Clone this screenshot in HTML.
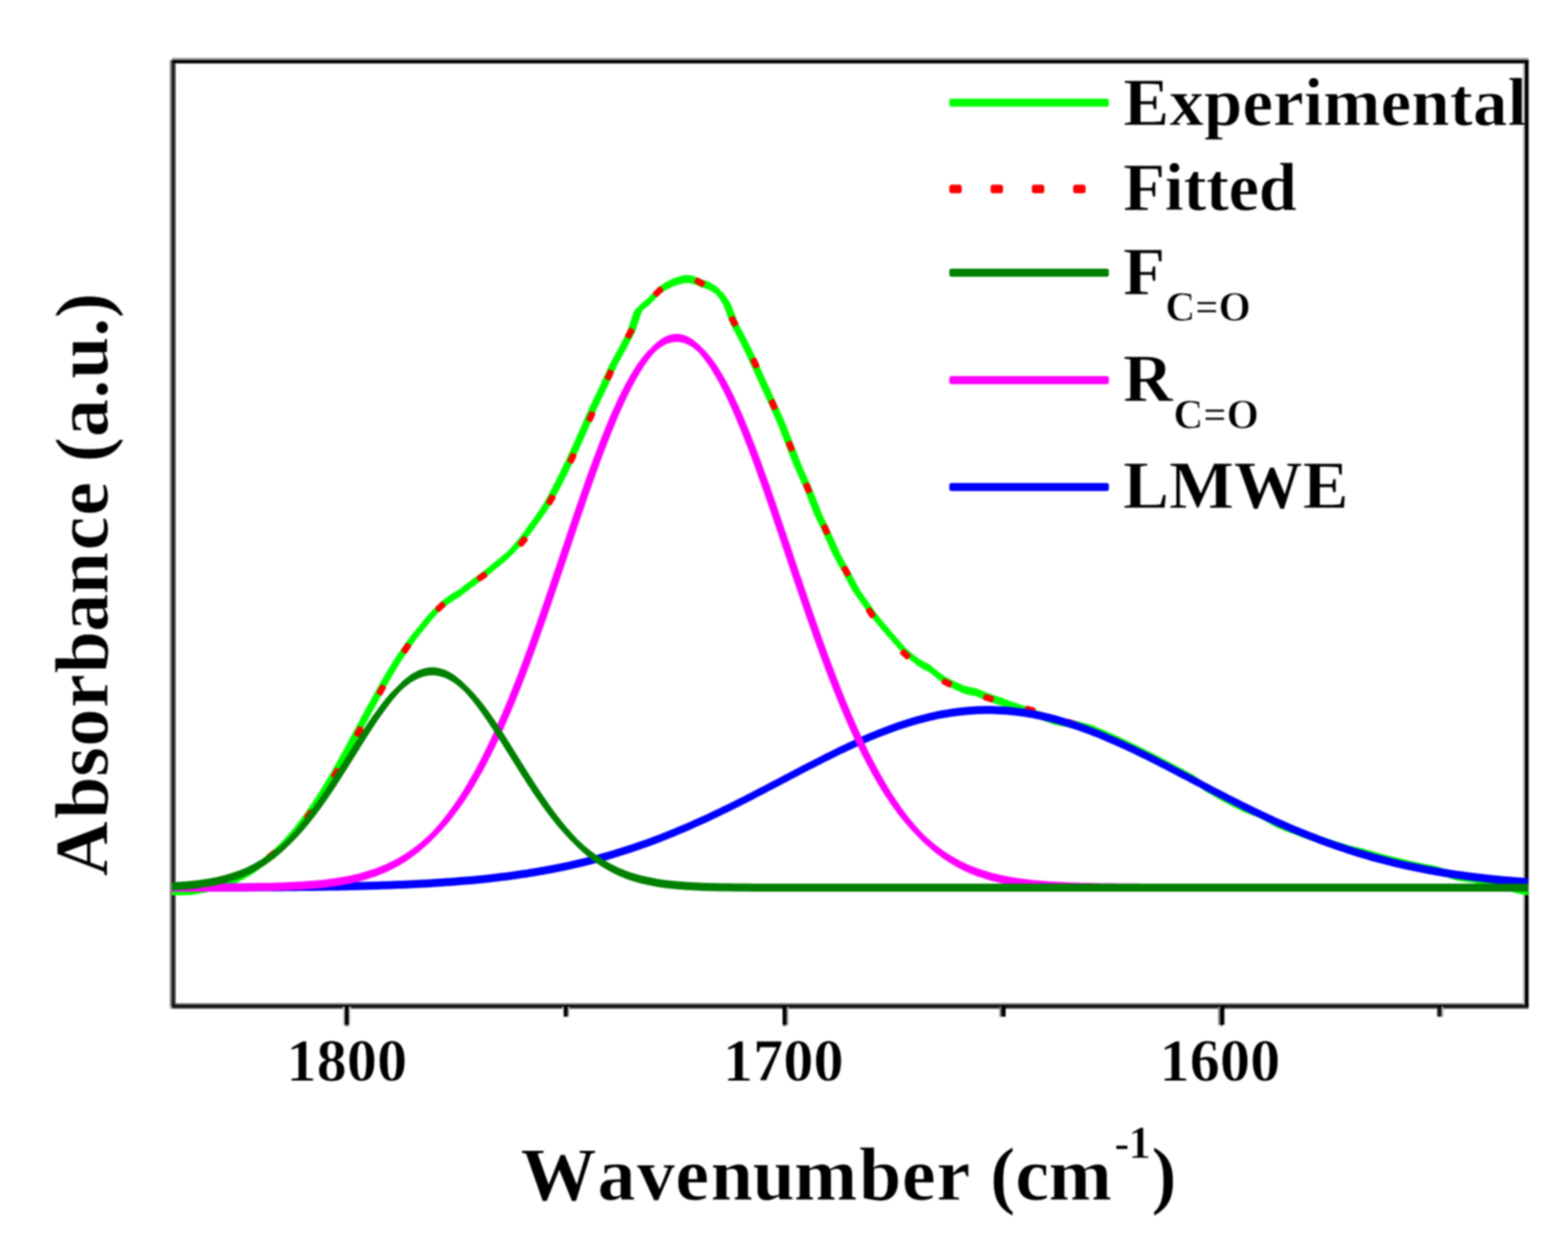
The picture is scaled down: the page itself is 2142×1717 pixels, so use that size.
<!DOCTYPE html>
<html lang="en"><head><meta charset="utf-8"><title>FTIR carbonyl band deconvolution</title>
<style>
html,body{margin:0;padding:0;background:#fff;}
body{width:2142px;height:1717px;overflow:hidden;}
svg{display:block;filter:blur(0.8px);}
text{font-family:"Liberation Serif","DejaVu Serif",serif;font-weight:bold;fill:#000;font-kerning:none;stroke:#fff;stroke-width:0.9px;stroke-linejoin:round;}
.crv{fill:none;stroke-width:11.0;stroke-linejoin:round;stroke-linecap:butt;}
</style></head><body>
<svg xmlns="http://www.w3.org/2000/svg" width="2142" height="1717" viewBox="0 0 2142 1717">
<rect x="0" y="0" width="2142" height="1717" fill="#fff"/>
<defs>
<clipPath id="plot"><rect x="235.0" y="86" width="1852.6" height="1287"/></clipPath>
<clipPath id="leg"><rect x="240" y="86" width="1843" height="1286"/></clipPath>
</defs>
<!-- axes frame -->
<g>
<rect x="235" y="79" width="1853.2" height="3" fill="#999"/>
<rect x="235" y="82" width="1853.2" height="4.6" fill="#000"/>
<rect x="235" y="1370" width="1848" height="2.3" fill="#8c8c8c"/>
<rect x="232" y="1372.3" width="1856.2" height="2.7" fill="#000"/>
<rect x="235" y="1375" width="1853.2" height="2.9" fill="#3a3a3a"/>
<rect x="232" y="1375" width="3" height="2.9" fill="#b4b4b4"/>
<rect x="232" y="82" width="3" height="1293" fill="#808080"/>
<rect x="235" y="82" width="2.6" height="1293" fill="#000"/>
<rect x="237.6" y="86.6" width="2.4" height="1285.7" fill="#3c3c3c"/>
<rect x="2080.2" y="86.6" width="2.8" height="1285.7" fill="#c4c4c4"/>
<rect x="2083" y="82" width="5.2" height="1293" fill="#000"/>
</g>
<!-- x axis ticks -->
<g>
<rect x="468.2" y="1375" width="2.7" height="24.9" fill="#d0d0d0"/>
<rect x="470.9" y="1375" width="5.9" height="24.9" fill="#000"/>
<rect x="476.8" y="1375" width="2.4" height="24.9" fill="#dedede"/>
<rect x="470.9" y="1399.9" width="5.9" height="2.1" fill="#909090"/>
<rect x="768.3" y="1375" width="1.8" height="13.7" fill="#e0e0e0"/>
<rect x="770.1" y="1375" width="5.7" height="13.7" fill="#000"/>
<rect x="775.8" y="1375" width="2.2" height="13.7" fill="#bdbdbd"/>
<rect x="1069" y="1375" width="5.8" height="24.9" fill="#000"/>
<rect x="1074.8" y="1375" width="2.4" height="24.9" fill="#a8a8a8"/>
<rect x="1069" y="1399.9" width="5.8" height="2.1" fill="#a0a0a0"/>
<rect x="1365.3" y="1375" width="2.7" height="13.7" fill="#808080"/>
<rect x="1368" y="1375" width="5.8" height="13.7" fill="#000"/>
<rect x="1664.1" y="1375" width="2.9" height="24.9" fill="#808080"/>
<rect x="1667" y="1375" width="5.6" height="24.9" fill="#000"/>
<rect x="1667" y="1399.9" width="3" height="2.1" fill="#8a8a8a"/>
<rect x="1963.2" y="1375" width="2.7" height="13.7" fill="#222"/>
<rect x="1965.9" y="1375" width="3" height="13.7" fill="#000"/>
<rect x="1968.9" y="1375" width="2.8" height="13.7" fill="#a8a8a8"/>
</g>
<!-- data curves -->
<g clip-path="url(#plot)">
<path fill="#00ff00" d="M229 1212.4L233 1212.2L235 1212L237 1212.1L241 1212.1L245 1212L249 1212L253 1211.9L257 1211.8L260 1211.7L261 1211.5L264.9 1210.9L268.9 1210.3L272.9 1209.6L276.8 1208.9L280.7 1208.2L284.6 1207.3L285 1207.3L288.6 1206.4L292.4 1205.4L296.3 1204.3L300.1 1203.2L304 1202L307.8 1200.7L311.6 1199.4L315.3 1198L319.1 1196.5L322.8 1195L325 1194L326.4 1193.3L330 1191.5L333.6 1189.6L337.1 1187.6L340.6 1185.6L344 1183.5L347.4 1181.3L350 1179.5L350.7 1179L353.9 1176.6L357.1 1174.1L360.2 1171.5L363.3 1168.9L366 1166.5L366.3 1166.3L369.4 1163.8L372.6 1161.2L375.6 1158.5L378.6 1155.8L381.5 1153.1L384.4 1150.3L387.3 1147.4L390.1 1144.5L392.9 1141.6L395 1139.3L395 1150.3L392.9 1152.6L390.1 1155.5L387.3 1158.4L384.4 1161.3L381.5 1164.1L378.6 1166.8L375.6 1169.5L372.6 1172.2L369.4 1174.8L366.3 1177.3L366 1177.5L363.3 1179.9L360.2 1182.5L357.1 1185.1L353.9 1187.6L350.7 1190L350 1190.5L347.4 1192.3L344 1194.5L340.6 1196.6L337.1 1198.6L333.6 1200.6L330 1202.5L326.4 1204.3L325 1205L322.8 1206L319.1 1207.5L315.3 1209L311.6 1210.4L307.8 1211.7L304 1213L300.1 1214.2L296.3 1215.3L292.4 1216.4L288.6 1217.4L285 1218.3L284.6 1218.3L280.7 1219.2L276.8 1219.9L272.9 1220.6L268.9 1221.3L264.9 1221.9L261 1222.5L260 1222.7L257 1222.8L253 1222.9L249 1223L245 1223L241 1223.1L237 1223.1L235 1223L233 1223.2L229 1223.4ZM373.1 1161.3L376 1158.6L378.9 1155.8L381.8 1152.9L384.6 1150L387.4 1147.1L389.5 1144.8L390.1 1144.1L392.8 1141.1L395.4 1138.1L398 1135L400.6 1131.9L403.1 1128.8L405.6 1125.6L408.1 1122.4L410.5 1119.2L412.9 1116L415.2 1112.7L417.6 1109.4L419.9 1106.1L422.1 1102.8L424.4 1099.5L424.5 1099.3L426.6 1096.2L428.9 1092.8L431.1 1089.5L433.2 1086.1L435.4 1082.7L437.6 1079.3L439.7 1075.9L441.8 1072.5L443.9 1069L445.9 1065.6L448 1062.1L450 1058.7L452 1055.2L454 1051.7L456 1048.2L458 1044.8L460 1041.3L461.9 1037.8L463.9 1034.3L465.8 1030.7L467.8 1027.2L469.7 1023.7L471.6 1020.2L473.5 1016.7L475.4 1013.2L477.3 1009.6L479.2 1006.1L481.1 1002.6L483 999L484.5 996.2L484.9 995.5L486.8 992L488.7 988.5L490.6 985L492.5 981.4L494.4 977.9L496.3 974.4L498.2 970.9L500.1 967.4L502.1 963.9L504 960.4L505.9 956.9L507.8 953.4L509.8 949.9L511.7 946.4L513.6 942.9L515.6 939.5L517.6 936L519.5 932.5L521.5 929.1L523.5 925.6L525.5 922.2L527.6 918.7L529.6 915.3L531.7 911.9L533.7 908.5L534.5 907.2L535.8 905.1L538 901.8L540.1 898.5L542.3 895.1L544.5 891.8L546.8 888.5L549 885.3L551.3 882L553.6 878.8L556 875.6L558.3 872.4L560.8 869.2L563.2 866.1L565.7 863L568.2 859.9L570.7 856.9L572.5 854.9L573.3 853.8L575.8 850.7L578.3 847.6L580.9 844.5L583.5 841.5L586.1 838.6L588.8 835.6L591.5 832.7L594.2 829.9L596.5 827.6L597 827.2L600.1 824.7L603.3 822.4L614.3 822.4L611.1 824.7L608 827.2L607.5 827.6L605.2 829.9L602.5 832.7L599.8 835.6L597.1 838.6L594.5 841.5L591.9 844.5L589.3 847.6L586.8 850.7L584.3 853.8L583.5 854.9L581.7 856.9L579.2 859.9L576.7 863L574.2 866.1L571.8 869.2L569.3 872.4L567 875.6L564.6 878.8L562.3 882L560 885.3L557.8 888.5L555.5 891.8L553.3 895.1L551.1 898.5L549 901.8L546.8 905.1L545.5 907.2L544.7 908.5L542.7 911.9L540.6 915.3L538.6 918.7L536.5 922.2L534.5 925.6L532.5 929.1L530.5 932.5L528.6 936L526.6 939.5L524.6 942.9L522.7 946.4L520.8 949.9L518.8 953.4L516.9 956.9L515 960.4L513 963.9L511.1 967.4L509.2 970.9L507.3 974.4L505.4 977.9L503.5 981.4L501.6 985L499.7 988.5L497.8 992L495.9 995.5L495.5 996.2L494 999L492.1 1002.6L490.2 1006.1L488.3 1009.6L486.4 1013.2L484.5 1016.7L482.6 1020.2L480.7 1023.7L478.8 1027.2L476.8 1030.7L474.9 1034.3L472.9 1037.8L471 1041.3L469 1044.8L467 1048.2L465 1051.7L463 1055.2L461 1058.7L459 1062.1L456.9 1065.6L454.9 1069L452.8 1072.5L450.7 1075.9L448.6 1079.3L446.4 1082.7L444.2 1086.1L442.1 1089.5L439.9 1092.8L437.6 1096.2L435.5 1099.3L435.4 1099.5L433.1 1102.8L430.9 1106.1L428.6 1109.4L426.2 1112.7L423.9 1116L421.5 1119.2L419.1 1122.4L416.6 1125.6L414.1 1128.8L411.6 1131.9L409 1135L406.4 1138.1L403.8 1141.1L401.1 1144.1L400.5 1144.8L398.4 1147.1L395.6 1150L392.8 1152.9L389.9 1155.8L387 1158.6L384.1 1161.3ZM594.2 830.1L597 827.2L599.7 824.4L602 822.1L602.5 821.7L605.6 819.2L608.8 816.9L612.1 814.5L615.3 812.3L618.7 810.1L622 808L625.4 805.9L628 804.4L628.9 803.7L632 801.3L635.1 798.8L638.3 796.4L641.5 794L644.7 791.6L647.9 789.2L651.1 786.9L654.4 784.5L657 782.5L657.6 782.1L660.8 779.7L663.9 777.2L667.1 774.7L670.2 772.2L673.4 769.7L676.4 767.1L679 764.9L679.5 764.5L682.6 762L685.8 759.5L688.8 756.9L691.8 754.2L694.8 751.5L697.7 748.7L698 748.4L700.6 745.7L703.4 742.7L706 739.7L706 750.7L703.4 753.7L700.6 756.7L698 759.4L697.7 759.7L694.8 762.5L691.8 765.2L688.8 767.9L685.8 770.5L682.6 773L679.5 775.5L679 775.9L676.4 778.1L673.4 780.7L670.2 783.2L667.1 785.7L663.9 788.2L660.8 790.7L657.6 793.1L657 793.5L654.4 795.5L651.1 797.9L647.9 800.2L644.7 802.6L641.5 805L638.3 807.4L635.1 809.8L632 812.3L628.9 814.7L628 815.4L625.4 816.9L622 819L618.7 821.1L615.3 823.3L612.1 825.5L608.8 827.9L605.6 830.2L602.5 832.7L602 833.1L599.7 835.4L597 838.2L594.2 841.1ZM686.3 759.7L689.3 757L692.2 754.2L692.5 753.9L695.1 751.2L697.9 748.2L700.5 745.2L703.2 742.2L705.8 739.1L708.4 736L710.9 732.8L713.3 729.6L715.7 726.4L718.1 723.1L720.4 719.8L722.7 716.5L723.5 715.4L725 713.4L727.4 710.2L729.8 706.9L732.1 703.6L734.4 700.3L736.6 697L738.9 693.6L741 690.2L741.5 689.5L743.2 686.6L745.2 683.1L747.1 679.6L749.1 676L751 672.5L752.9 668.9L754.8 665.4L756.6 661.8L758.5 658.3L760.3 654.7L762.1 651.1L763.9 647.5L765.6 643.9L766.5 642.1L767.4 640.3L769.1 636.6L770.9 633L772.6 629.4L774.3 625.8L776 622.1L777.7 618.5L779.4 614.8L781 611.2L782.7 607.5L784.3 603.9L786 600.2L787.6 596.6L789.2 592.9L790.9 589.3L792.5 585.6L794.1 581.9L795.7 578.3L797.3 574.6L798.9 570.9L800.5 567.3L802.1 563.6L803.7 559.9L804.5 558.2L805.3 556.4L807.1 552.8L808.8 549.2L810.5 545.6L812.2 542L814 538.4L815.7 534.8L817.4 531.2L819.2 527.6L819.5 526.9L820.9 523.7L822.5 520.1L824.2 516.5L825.8 512.8L827.5 509.2L829.1 505.5L830.8 501.9L831.5 500.3L832.4 498.6L834.3 495L836.2 491.5L838.1 488.1L840.1 484.6L842 481.1L844 477.6L844.5 476.7L846 473.8L847.8 470.3L849.6 466.7L851.4 463.2L853.3 459.7L855.1 456.2L856.5 453.7L857 452L858.3 448.2L859.6 444.4L860.8 440.6L862.1 436.9L862.5 435.7L863.4 433.1L864.7 429.3L866 425.6L866.5 424.1L867.3 423.3L870.1 420.6L873.1 417.9L876.1 415.4L887.1 415.4L884.1 417.9L881.1 420.6L878.3 423.3L877.5 424.1L877 425.6L875.7 429.3L874.4 433.1L873.5 435.7L873.1 436.9L871.8 440.6L870.6 444.4L869.3 448.2L868 452L867.5 453.7L866.1 456.2L864.3 459.7L862.4 463.2L860.6 466.7L858.8 470.3L857 473.8L855.5 476.7L855 477.6L853 481.1L851.1 484.6L849.1 488.1L847.2 491.5L845.3 495L843.4 498.6L842.5 500.3L841.8 501.9L840.1 505.5L838.5 509.2L836.8 512.8L835.2 516.5L833.5 520.1L831.9 523.7L830.5 526.9L830.2 527.6L828.4 531.2L826.7 534.8L825 538.4L823.2 542L821.5 545.6L819.8 549.2L818.1 552.8L816.3 556.4L815.5 558.2L814.7 559.9L813.1 563.6L811.5 567.3L809.9 570.9L808.3 574.6L806.7 578.3L805.1 581.9L803.5 585.6L801.9 589.3L800.2 592.9L798.6 596.6L797 600.2L795.3 603.9L793.7 607.5L792 611.2L790.4 614.8L788.7 618.5L787 622.1L785.3 625.8L783.6 629.4L781.9 633L780.1 636.6L778.4 640.3L777.5 642.1L776.6 643.9L774.9 647.5L773.1 651.1L771.3 654.7L769.5 658.3L767.6 661.8L765.8 665.4L763.9 668.9L762 672.5L760.1 676L758.1 679.6L756.2 683.1L754.2 686.6L752.5 689.5L752 690.2L749.9 693.6L747.6 697L745.4 700.3L743.1 703.6L740.8 706.9L738.4 710.2L736 713.4L734.5 715.4L733.7 716.5L731.4 719.8L729.1 723.1L726.7 726.4L724.3 729.6L721.9 732.8L719.4 736L716.8 739.1L714.2 742.2L711.5 745.2L708.9 748.2L706.1 751.2L703.5 753.9L703.2 754.2L700.3 757L697.3 759.7ZM870.2 423.8L871.5 420.1L872 418.6L872.8 417.8L875.6 415.1L878.6 412.4L881.6 409.9L884.7 407.5L887.9 405.2L888 405.1L891 401.5L893.6 398.5L896.2 395.6L896.2 406.6L893.6 409.5L891 412.5L888 416.1L887.9 416.2L884.7 418.5L881.6 420.9L878.6 423.4L875.6 426.1L872.8 428.8L872 429.6L871.5 431.1L870.2 434.8ZM876.1 415.4L879.2 413L882.4 410.7L882.5 410.6L885.5 407L888.1 404L890.7 401.1L892.5 399.3L893.5 398.5L896.5 396L899.7 393.7L910.7 393.7L907.5 396L904.5 398.5L903.5 399.3L901.7 401.1L899.1 404L896.5 407L893.5 410.6L893.4 410.7L890.2 413L887.1 415.4ZM891 401.5L893.6 398.5L896.2 395.6L898 393.8L899 393L902 390.5L905.2 388.2L908.5 386.1L912 384.2L913 383.7L915.6 382.3L919.1 380.6L922.8 379.2L926 378.3L926.6 378.1L930.3 376.9L934.2 376L936 375.8L938.1 375.7L942.1 376L945 376.4L946.1 376.7L950 377.9L953.8 379.4L957.4 381.3L958 381.7L960.9 382.3L964.7 383.5L968.5 385L970 385.8L972.1 387L975.6 389.2L978.9 391.6L982 394.1L983 394.9L985.1 397.9L987.4 401.2L989.6 404.6L989.6 415.6L987.4 412.2L985.1 408.9L983 405.9L982 405.1L978.9 402.6L975.6 400.2L972.1 398L970 396.8L968.5 396L964.7 394.5L960.9 393.3L958 392.7L957.4 392.3L953.8 390.4L950 388.9L946.1 387.7L945 387.4L942.1 387L938.1 386.7L936 386.8L934.2 387L930.3 387.9L926.6 389.1L926 389.3L922.8 390.2L919.1 391.6L915.6 393.3L913 394.7L912 395.2L908.5 397.1L905.2 399.2L902 401.5L899 404L898 404.8L896.2 406.6L893.6 409.5L891 412.5ZM981.1 394.7L984.4 397.1L987.5 399.6L988.5 400.4L990.6 403.4L992.9 406.7L995.1 410.1L997.3 413.5L998.5 415.4L999.4 417.8L1000.9 421.5L1002.4 425.3L1003.5 428.2L1003.8 429.1L1005.2 432.8L1006.5 436.6L1007.9 440.4L1008.5 442.1L1009.2 443.4L1011.2 446.9L1013.1 450.5L1015 454L1016.9 457.6L1018.8 461.2L1019.5 462.6L1020.6 464.7L1022.4 468.3L1024.2 471.9L1026 475.5L1027.7 479.1L1029.5 482.8L1031.2 486.4L1032.9 490L1034.6 493.7L1036.2 497.3L1037.9 501L1039.6 504.6L1041.2 508.3L1042.8 512L1044.4 515.6L1045.5 518.1L1046 519.2L1047.8 522.8L1049.5 526.5L1051.2 530.1L1052.8 533.7L1054.5 537.4L1056.2 541L1057.9 544.7L1059.5 548.3L1061.2 552L1061.5 552.7L1062.8 555.6L1064.5 559.3L1066.1 562.9L1067.7 566.6L1069.3 570.3L1071 573.9L1072.6 577.6L1073.5 579.6L1074.2 581.5L1075.7 585.2L1077.1 588.9L1078.5 592.7L1080 596.4L1081.4 600.1L1082.8 603.9L1084.3 607.6L1085.5 610.8L1085.7 611.3L1087.2 615.1L1088.6 618.8L1090.1 622.5L1091.5 626.2L1093 630L1094.5 633.7L1095.5 636.3L1095.9 637.3L1097.5 640.9L1099.1 644.6L1100.8 648.3L1102.4 651.9L1104 655.5L1105.6 659.2L1107.3 662.8L1108.9 666.5L1109.5 667.8L1110.5 670.5L1112 674.2L1113.5 677.9L1114.9 681.6L1116.4 685.4L1116.5 685.7L1117.8 689.1L1119.3 692.8L1120.8 696.5L1122.2 700.2L1123.5 703.4L1123.7 703.9L1125.4 707.4L1127.1 711.1L1128.9 714.6L1130.6 718.2L1132.3 721.8L1133.5 724.2L1134.1 725.5L1135.7 729.2L1137.4 732.8L1139 736.4L1140.7 740L1141.5 741.8L1142.3 743.8L1144 747.5L1145.5 751.1L1147.2 754.7L1147.5 755.5L1148.8 757.9L1150.7 761.5L1152.5 765L1154.5 768.5L1156.4 771.9L1158.3 775.4L1160.3 778.9L1162.3 782.3L1162.5 782.7L1164.3 786.1L1166.1 789.7L1168 793.2L1169.8 796.7L1171.7 800.2L1173.7 803.7L1174.5 805.2L1175.6 806.9L1177.8 810.2L1180 813.4L1182.3 816.7L1184.6 819.9L1185.5 821.2L1187 823.3L1189.2 826.6L1191.5 829.8L1193.8 833.1L1196.1 836.3L1196.5 836.8L1198.5 839.4L1200.9 842.5L1203.4 845.6L1206 848.7L1208.5 851.7L1211.1 854.7L1211.5 855.2L1213.8 858L1216.3 861L1218.8 864.1L1221.5 867L1224.1 870L1226.5 872.6L1226.8 873L1229.3 876L1231.9 879L1234.6 882L1237.2 884.9L1239.9 887.8L1242.5 890.5L1242.7 890.7L1245.7 893.3L1248.7 895.8L1237.7 895.8L1234.7 893.3L1231.7 890.7L1231.5 890.5L1228.9 887.8L1226.2 884.9L1223.6 882L1220.9 879L1218.3 876L1215.8 873L1215.5 872.6L1213.1 870L1210.5 867L1207.8 864.1L1205.3 861L1202.8 858L1200.5 855.2L1200.1 854.7L1197.5 851.7L1195 848.7L1192.4 845.6L1189.9 842.5L1187.5 839.4L1185.5 836.8L1185.1 836.3L1182.8 833.1L1180.5 829.8L1178.2 826.6L1176 823.3L1174.5 821.2L1173.6 819.9L1171.3 816.7L1169 813.4L1166.8 810.2L1164.6 806.9L1163.5 805.2L1162.7 803.7L1160.7 800.2L1158.8 796.7L1157 793.2L1155.1 789.7L1153.3 786.1L1151.5 782.7L1151.3 782.3L1149.3 778.9L1147.3 775.4L1145.4 771.9L1143.5 768.5L1141.5 765L1139.7 761.5L1137.8 757.9L1136.5 755.5L1136.2 754.7L1134.5 751.1L1133 747.5L1131.3 743.8L1130.5 741.8L1129.7 740L1128 736.4L1126.4 732.8L1124.7 729.2L1123.1 725.5L1122.5 724.2L1121.3 721.8L1119.6 718.2L1117.9 714.6L1116.1 711.1L1114.4 707.4L1112.7 703.9L1112.5 703.4L1111.2 700.2L1109.8 696.5L1108.3 692.8L1106.8 689.1L1105.5 685.7L1105.4 685.4L1103.9 681.6L1102.5 677.9L1101 674.2L1099.5 670.5L1098.5 667.8L1097.9 666.5L1096.3 662.8L1094.6 659.2L1093 655.5L1091.4 651.9L1089.8 648.3L1088.1 644.6L1086.5 640.9L1084.9 637.3L1084.5 636.3L1083.5 633.7L1082 630L1080.5 626.2L1079.1 622.5L1077.6 618.8L1076.2 615.1L1074.7 611.3L1074.5 610.8L1073.3 607.6L1071.8 603.9L1070.4 600.1L1069 596.4L1067.5 592.7L1066.1 588.9L1064.7 585.2L1063.2 581.5L1062.5 579.6L1061.6 577.6L1060 573.9L1058.3 570.3L1056.7 566.6L1055.1 562.9L1053.5 559.3L1051.8 555.6L1050.5 552.7L1050.2 552L1048.5 548.3L1046.9 544.7L1045.2 541L1043.5 537.4L1041.8 533.7L1040.2 530.1L1038.5 526.5L1036.8 522.8L1035 519.2L1034.5 518.1L1033.4 515.6L1031.8 512L1030.2 508.3L1028.6 504.6L1026.9 501L1025.2 497.3L1023.6 493.7L1021.9 490L1020.2 486.4L1018.5 482.8L1016.7 479.1L1015 475.5L1013.2 471.9L1011.4 468.3L1009.6 464.7L1008.5 462.6L1007.8 461.2L1005.9 457.6L1004 454L1002.1 450.5L1000.2 446.9L998.2 443.4L997.5 442.1L996.9 440.4L995.5 436.6L994.2 432.8L992.8 429.1L992.5 428.2L991.4 425.3L989.9 421.5L988.4 417.8L987.5 415.4L986.3 413.5L984.1 410.1L981.9 406.7L979.6 403.4L977.5 400.4L976.5 399.6L973.4 397.1L970.1 394.7ZM1229.1 876.5L1231.7 879.4L1234.4 882.3L1237 885L1237.2 885.2L1240.2 887.8L1243.2 890.3L1246.3 892.8L1249.4 895.3L1252.6 897.7L1254 898.7L1255.8 899.9L1259.2 901.9L1262.6 903.9L1266.1 905.8L1269.6 907.6L1271 908.3L1273.2 910.2L1276.2 912.8L1279.3 915.3L1282.4 917.8L1285.6 920.2L1288.8 922.6L1290 923.6L1292 924.6L1295.5 926.5L1299 928.3L1302.6 930L1306.2 931.7L1309.9 933.3L1313.5 934.9L1317 936.4L1317.2 936.5L1321 937.4L1324.9 938.4L1328.8 939.2L1332.7 940.1L1334 940.3L1336.7 941.4L1340.3 943L1344 944.4L1347.8 945.9L1351.5 947.4L1352 947.6L1355.2 948.7L1359 949.9L1362.8 951.2L1366.6 952.4L1370.4 953.7L1371 953.9L1374.2 955.2L1377.9 956.8L1381.6 958.3L1382 958.5L1385.3 959.6L1389.1 960.8L1392.9 962.1L1396.7 963.4L1400.5 964.6L1404.2 965.9L1408 967.2L1410 967.9L1411.8 968.5L1415.6 969.9L1419.4 971.2L1423.1 972.6L1426.9 974L1430.6 975.4L1434.4 976.8L1438.1 978.3L1440 979L1441.8 979.3L1445.8 980L1449.7 980.7L1453.6 981.4L1457.6 982.2L1461.5 982.9L1465 983.6L1465.4 983.7L1469.3 984.6L1473.2 985.5L1477.1 986.5L1481 987.4L1484.9 988.4L1488.8 989.4L1490 989.7L1492.6 990.8L1496.3 992.3L1500 993.9L1503.7 995.4L1507.4 997L1511.1 998.6L1514.7 1000.2L1518.4 1001.8L1522 1003.5L1525.7 1005.1L1529.3 1006.8L1533 1008.5L1536.6 1010.2L1540.2 1011.9L1543.8 1013.6L1547.4 1015.4L1551 1017.1L1554.6 1018.9L1558.2 1020.6L1561.8 1022.4L1565.4 1024.2L1569 1026L1570 1026.5L1572.5 1027.8L1576.1 1029.6L1579.7 1031.5L1583.2 1033.3L1586.8 1035.2L1590.3 1037L1593.8 1038.9L1597.4 1040.8L1600.9 1042.6L1604.4 1044.5L1608 1046.4L1611.5 1048.3L1615 1050.1L1618.6 1052L1622.1 1053.9L1625.6 1055.8L1629.2 1057.7L1630 1058.1L1632.7 1060.1L1635.9 1062.4L1639.2 1064.8L1642.4 1067.1L1645 1069L1645.6 1069.4L1649.1 1071.4L1652.5 1073.4L1656 1075.4L1659.5 1077.4L1662.9 1079.5L1666.4 1081.4L1669.8 1083.4L1670 1083.5L1673.3 1085.3L1676.9 1087.1L1680.4 1088.9L1684 1090.7L1687.6 1092.5L1691.1 1094.3L1694.7 1096.1L1698.3 1097.9L1700 1098.7L1701.9 1099.4L1705.6 1100.8L1709.4 1102.2L1713.1 1103.5L1716.9 1104.9L1720 1106L1720.7 1106.4L1724.1 1108.4L1727.6 1110.3L1731.1 1112.3L1734.6 1114.3L1738 1116.2L1741.5 1118.2L1745 1120.1L1745 1120.1L1748.7 1121.5L1752.4 1123L1756.1 1124.4L1759.9 1125.8L1763.6 1127.2L1767.4 1128.6L1770 1129.5L1771.1 1129.9L1774.9 1131.4L1778.6 1132.8L1782.3 1134.2L1786.1 1135.6L1789.9 1137L1793.6 1138.3L1797.4 1139.6L1800 1140.6L1801.2 1141L1804.9 1142.3L1808.7 1143.6L1812.5 1144.9L1816.3 1146.2L1820.1 1147.4L1823.9 1148.7L1827.7 1149.9L1831.5 1151.1L1835.3 1152.3L1839.1 1153.5L1840 1153.7L1842.9 1154.5L1846.8 1155.5L1850.7 1156.4L1854.6 1157.3L1858.5 1158.2L1861 1158.8L1862.4 1159.2L1866.2 1160.3L1870.1 1161.5L1873.9 1162.5L1877.8 1163.6L1881.6 1164.7L1885.5 1165.7L1889.3 1166.7L1893.2 1167.7L1897.1 1168.7L1901 1169.7L1904.8 1170.6L1908.7 1171.5L1912 1172.3L1912.6 1172.4L1916.5 1173.4L1920.4 1174.3L1924.3 1175.3L1928.2 1176.2L1932.1 1177L1936 1177.9L1939.9 1178.8L1940 1178.8L1943.8 1179.5L1947.7 1180.3L1951.7 1181L1955.6 1181.7L1959.5 1182.4L1960 1182.5L1963.5 1183.6L1967.3 1184.7L1971.1 1185.9L1975 1187L1975 1187L1978.8 1188.2L1982.6 1189.5L1986.4 1190.7L1990 1191.8L1990.2 1191.8L1994.2 1192.4L1998.2 1192.9L2002.1 1193.5L2006.1 1194L2010 1194.5L2014 1195L2014 1195L2018 1195.9L2021.9 1196.7L2025.8 1197.5L2029.7 1198.3L2033.6 1199.1L2037.5 1199.9L2040 1200.4L2041.5 1200.8L2045.3 1201.9L2049.2 1202.9L2053 1204L2056.9 1205L2060 1205.8L2060.8 1206L2064.6 1207.1L2068.5 1208.2L2072.3 1209.2L2076.2 1210.3L2078 1210.8L2080 1211L2084 1211.5L2088 1212L2088 1212L2091.9 1212.3L2093.6 1212.4L2093.6 1223.4L2091.9 1223.3L2088 1223L2088 1223L2084 1222.5L2080 1222L2078 1221.8L2076.2 1221.3L2072.3 1220.2L2068.5 1219.2L2064.6 1218.1L2060.8 1217L2060 1216.8L2056.9 1216L2053 1215L2049.2 1213.9L2045.3 1212.9L2041.5 1211.8L2040 1211.4L2037.5 1210.9L2033.6 1210.1L2029.7 1209.3L2025.8 1208.5L2021.9 1207.7L2018 1206.9L2014 1206L2014 1206L2010 1205.5L2006.1 1205L2002.1 1204.5L1998.2 1203.9L1994.2 1203.4L1990.2 1202.8L1990 1202.8L1986.4 1201.7L1982.6 1200.5L1978.8 1199.2L1975 1198L1975 1198L1971.1 1196.9L1967.3 1195.7L1963.5 1194.6L1960 1193.5L1959.5 1193.4L1955.6 1192.7L1951.7 1192L1947.7 1191.3L1943.8 1190.5L1940 1189.8L1939.9 1189.8L1936 1188.9L1932.1 1188L1928.2 1187.2L1924.3 1186.3L1920.4 1185.3L1916.5 1184.4L1912.6 1183.4L1912 1183.3L1908.7 1182.5L1904.8 1181.6L1901 1180.7L1897.1 1179.7L1893.2 1178.7L1889.3 1177.7L1885.5 1176.7L1881.6 1175.7L1877.8 1174.6L1873.9 1173.5L1870.1 1172.5L1866.2 1171.3L1862.4 1170.2L1861 1169.8L1858.5 1169.2L1854.6 1168.3L1850.7 1167.4L1846.8 1166.5L1842.9 1165.5L1840 1164.7L1839.1 1164.5L1835.3 1163.3L1831.5 1162.1L1827.7 1160.9L1823.9 1159.7L1820.1 1158.4L1816.3 1157.2L1812.5 1155.9L1808.7 1154.6L1804.9 1153.3L1801.2 1152L1800 1151.6L1797.4 1150.6L1793.6 1149.3L1789.9 1148L1786.1 1146.6L1782.3 1145.2L1778.6 1143.8L1774.9 1142.4L1771.1 1140.9L1770 1140.5L1767.4 1139.6L1763.6 1138.2L1759.9 1136.8L1756.1 1135.4L1752.4 1134L1748.7 1132.5L1745 1131.1L1745 1131.1L1741.5 1129.2L1738 1127.2L1734.6 1125.3L1731.1 1123.3L1727.6 1121.3L1724.1 1119.4L1720.7 1117.4L1720 1117L1716.9 1115.9L1713.1 1114.5L1709.4 1113.2L1705.6 1111.8L1701.9 1110.4L1700 1109.7L1698.3 1108.9L1694.7 1107.1L1691.1 1105.3L1687.6 1103.5L1684 1101.7L1680.4 1099.9L1676.9 1098.1L1673.3 1096.3L1670 1094.5L1669.8 1094.4L1666.4 1092.4L1662.9 1090.5L1659.5 1088.4L1656 1086.4L1652.5 1084.4L1649.1 1082.4L1645.6 1080.4L1645 1080L1642.4 1078.1L1639.2 1075.8L1635.9 1073.4L1632.7 1071.1L1630 1069.1L1629.2 1068.7L1625.6 1066.8L1622.1 1064.9L1618.6 1063L1615 1061.1L1611.5 1059.3L1608 1057.4L1604.4 1055.5L1600.9 1053.6L1597.4 1051.8L1593.8 1049.9L1590.3 1048L1586.8 1046.2L1583.2 1044.3L1579.7 1042.5L1576.1 1040.6L1572.5 1038.8L1570 1037.5L1569 1037L1565.4 1035.2L1561.8 1033.4L1558.2 1031.6L1554.6 1029.9L1551 1028.1L1547.4 1026.4L1543.8 1024.6L1540.2 1022.9L1536.6 1021.2L1533 1019.5L1529.3 1017.8L1525.7 1016.1L1522 1014.5L1518.4 1012.8L1514.7 1011.2L1511.1 1009.6L1507.4 1008L1503.7 1006.4L1500 1004.9L1496.3 1003.3L1492.6 1001.8L1490 1000.7L1488.8 1000.4L1484.9 999.4L1481 998.4L1477.1 997.5L1473.2 996.5L1469.3 995.6L1465.4 994.7L1465 994.6L1461.5 993.9L1457.6 993.2L1453.6 992.4L1449.7 991.7L1445.8 991L1441.8 990.3L1440 990L1438.1 989.3L1434.4 987.8L1430.6 986.4L1426.9 985L1423.1 983.6L1419.4 982.2L1415.6 980.9L1411.8 979.5L1410 978.9L1408 978.2L1404.2 976.9L1400.5 975.6L1396.7 974.4L1392.9 973.1L1389.1 971.8L1385.3 970.6L1382 969.5L1381.6 969.3L1377.9 967.8L1374.2 966.2L1371 964.9L1370.4 964.7L1366.6 963.4L1362.8 962.2L1359 960.9L1355.2 959.7L1352 958.6L1351.5 958.4L1347.8 956.9L1344 955.4L1340.3 954L1336.7 952.4L1334 951.3L1332.7 951.1L1328.8 950.2L1324.9 949.4L1321 948.4L1317.2 947.5L1317 947.4L1313.5 945.9L1309.9 944.3L1306.2 942.7L1302.6 941L1299 939.3L1295.5 937.5L1292 935.6L1290 934.6L1288.8 933.6L1285.6 931.2L1282.4 928.8L1279.3 926.3L1276.2 923.8L1273.2 921.2L1271 919.3L1269.6 918.6L1266.1 916.8L1262.6 914.9L1259.2 912.9L1255.8 910.9L1254 909.7L1252.6 908.7L1249.4 906.3L1246.3 903.8L1243.2 901.3L1240.2 898.8L1237.2 896.2L1237 896L1234.4 893.3L1231.7 890.4L1229.1 887.5Z"/>
<path fill="#ff0000" stroke="#ff0000" stroke-width="5.6" stroke-linejoin="round" d="M253.1 1207.7L261.9 1206.9L262.2 1210.1L253.4 1210.9ZM309.8 1198L318.2 1195.3L319.2 1198.3L310.8 1201ZM366.9 1169.4L373.8 1164L375.8 1166.5L368.9 1171.9ZM418.4 1115.7L423.6 1108.6L426.2 1110.5L421 1117.6ZM455.2 1059.3L459.6 1051.7L462.4 1053.3L458 1060.9ZM486.7 1002.5L490.8 994.8L493.6 996.3L489.5 1004ZM517.3 945.6L521.6 937.9L524.4 939.5L520.1 947.2ZM551.1 888.4L556 881.1L558.7 882.9L553.8 890.2ZM597.3 830.8L603.7 824.8L605.9 827.2L599.4 833.2ZM653.9 788.7L661.2 783.8L663 786.5L655.6 791.3ZM710.1 742L715.7 735.3L718.2 737.4L712.5 744.1ZM749 685.9L753.3 678.2L756.1 679.8L751.8 687.4ZM778.1 629.2L781.9 621.3L784.8 622.6L781 630.6ZM803.9 572.4L807.5 564.4L810.4 565.7L806.8 573.7ZM829.2 515.5L832.8 507.5L835.7 508.9L832.1 516.9ZM856.8 458.4L861 450.7L863.8 452.2L859.6 460ZM894.9 400.5L901.1 394.2L903.4 396.5L897.2 402.7ZM953 381.9L960.6 386.3L959 389L951.4 384.7ZM1001.2 434.4L1005.7 441.9L1002.9 443.6L998.4 436ZM1030.9 491.2L1034.6 499.2L1031.7 500.5L1028 492.5ZM1056 548L1059.4 556.1L1056.4 557.4L1053 549.3ZM1079.5 604.9L1082.8 613L1079.9 614.3L1076.5 606.1ZM1103 661.8L1106.4 669.9L1103.4 671.1L1100 663ZM1127.7 718.7L1131.3 726.7L1128.4 728L1124.8 720ZM1155.2 775.6L1159.3 783.3L1156.5 784.8L1152.4 777ZM1188.3 832.5L1193.3 839.8L1190.6 841.6L1185.7 834.3ZM1234.6 889.6L1241 895.6L1238.8 897.9L1232.4 891.9ZM1290.3 929.5L1298.2 933.3L1296.8 936.2L1288.9 932.3ZM1346.7 951L1355.1 953.5L1354.2 956.6L1345.8 954.1ZM1403.5 966.9L1412 969.3L1411.1 972.4L1402.6 969.9ZM1460.6 984.8L1468.9 987.8L1467.8 990.8L1459.5 987.8ZM1517.7 1007.8L1525.7 1011.4L1524.4 1014.3L1516.4 1010.7ZM1574.7 1035.1L1582.6 1039.1L1581.1 1041.9L1573.3 1037.9ZM1631.6 1064.7L1639.4 1068.8L1637.9 1071.6L1630.2 1067.5ZM1688.5 1094.2L1696.3 1098.1L1694.9 1101L1687 1097ZM1745.2 1121.4L1753.2 1125L1751.9 1127.9L1743.9 1124.3ZM1801.8 1145.1L1810.1 1148.1L1809 1151.1L1800.7 1148.1ZM1858.5 1164.4L1867 1166.9L1866 1170L1857.6 1167.5ZM1915.2 1179.4L1923.8 1181.3L1923.1 1184.4L1914.5 1182.5ZM1971.9 1190.4L1980.6 1191.8L1980.1 1194.9L1971.4 1193.6ZM2028.7 1198.1L2037.4 1199.1L2037.1 1202.2L2028.3 1201.3Z"/>
<path fill="#0000ff" d="M229 1206.9L234 1206.9L239 1206.9L244 1206.9L249 1206.9L254 1206.9L259 1206.9L264 1206.9L269 1206.9L274 1206.8L279 1206.8L284 1206.8L289 1206.8L294 1206.8L299 1206.8L304 1206.8L309 1206.8L314 1206.7L319 1206.7L324 1206.7L329 1206.7L334 1206.7L339 1206.6L344 1206.6L349 1206.6L354 1206.6L359 1206.5L364 1206.5L369 1206.5L374 1206.4L379 1206.4L384 1206.4L389 1206.3L394 1206.3L399 1206.2L404 1206.2L409 1206.1L414 1206.1L419 1206L424 1206L429 1205.9L434 1205.8L439 1205.8L444 1205.7L449 1205.6L454 1205.5L459 1205.5L464 1205.4L469 1205.3L474 1205.2L479 1205.1L484 1205L489 1204.8L494 1204.7L499 1204.6L504 1204.5L509 1204.3L514 1204.2L519 1204L524 1203.8L529 1203.7L534 1203.5L539 1203.3L544 1203.1L549 1202.9L554 1202.7L559 1202.5L563.9 1202.2L568.9 1202L573.9 1201.8L578.9 1201.5L583.9 1201.2L588.9 1200.9L593.9 1200.6L598.9 1200.3L603.9 1200L608.9 1199.6L613.9 1199.3L618.8 1198.9L623.8 1198.5L628.8 1198.1L633.8 1197.7L638.8 1197.3L643.8 1196.9L648.7 1196.4L653.7 1195.9L658.7 1195.4L663.7 1194.9L668.6 1194.4L673.6 1193.8L678.6 1193.2L683.5 1192.6L688.5 1192L693.5 1191.4L698.4 1190.7L703.4 1190L708.3 1189.3L713.3 1188.6L718.2 1187.9L723.2 1187.1L728.1 1186.3L733 1185.5L738 1184.6L742.9 1183.7L747.8 1182.8L752.7 1181.9L757.6 1181L762.5 1180L767.5 1179L772.4 1178L777.2 1176.9L782.1 1175.8L787 1174.7L791.9 1173.5L796.7 1172.4L801.6 1171.2L806.4 1169.9L811.3 1168.7L816.1 1167.4L821 1166.1L825.8 1164.7L830.6 1163.4L835.4 1162L840.2 1160.5L845 1159.1L849.7 1157.6L854.5 1156.1L859.3 1154.5L864 1152.9L868.8 1151.3L873.5 1149.7L878.2 1148.1L882.9 1146.4L887.6 1144.7L892.3 1142.9L897 1141.2L901.7 1139.4L906.4 1137.6L911 1135.7L915.6 1133.8L920.3 1132L924.9 1130L929.5 1128.1L934.1 1126.2L938.7 1124.2L943.3 1122.2L947.9 1120.1L952.5 1118.1L957 1116L961.6 1114L966.1 1111.9L970.6 1109.7L975.2 1107.6L979.7 1105.4L984.2 1103.3L988.7 1101.1L993.2 1098.9L997.7 1096.7L1002.2 1094.5L1006.6 1092.2L1011.1 1090L1015.6 1087.7L1020 1085.4L1024.5 1083.2L1028.9 1080.9L1033.4 1078.6L1037.8 1076.3L1042.3 1074L1046.7 1071.7L1051.1 1069.3L1055.6 1067L1060 1064.7L1064.4 1062.4L1068.8 1060L1073.3 1057.7L1077.7 1055.4L1082.1 1053.1L1086.5 1050.7L1091 1048.4L1095.4 1046.1L1099.8 1043.8L1104.3 1041.5L1108.7 1039.2L1113.2 1036.9L1117.6 1034.7L1122.1 1032.4L1126.5 1030.1L1131 1027.9L1135.5 1025.7L1140 1023.5L1144.4 1021.3L1148.9 1019.1L1153.5 1017L1158 1014.8L1162.5 1012.7L1167 1010.6L1171.6 1008.6L1176.1 1006.5L1180.7 1004.5L1185.3 1002.6L1189.9 1000.6L1194.5 998.7L1199.1 996.8L1203.8 995L1208.4 993.2L1213.1 991.4L1217.8 989.7L1222.5 988L1227.2 986.3L1231.9 984.7L1236.7 983.2L1241.4 981.7L1246.2 980.2L1251 978.8L1255.8 977.5L1260.6 976.2L1265.4 974.9L1270.3 973.8L1275.2 972.7L1280 971.6L1284.9 970.6L1289.8 969.7L1294.8 968.9L1299.7 968.1L1304.7 967.4L1309.6 966.7L1314.6 966.2L1319.5 965.7L1324.5 965.2L1329.5 964.9L1334.5 964.6L1339.5 964.4L1344.5 964.3L1349.5 964.3L1354.5 964.3L1359.5 964.5L1364.5 964.7L1369.5 964.9L1374.5 965.3L1379.5 965.7L1384.4 966.2L1389.4 966.8L1394.4 967.4L1399.3 968.1L1404.3 968.9L1409.2 969.8L1414.1 970.7L1419 971.7L1423.9 972.8L1428.8 973.9L1433.7 975.1L1438.5 976.3L1443.3 977.6L1448.2 979L1453 980.4L1457.8 981.8L1462.5 983.4L1467.3 984.9L1472 986.5L1476.8 988.2L1481.5 989.9L1486.2 991.6L1490.8 993.4L1495.5 995.2L1500.2 997.1L1504.8 999L1509.4 1000.9L1514 1002.9L1518.6 1004.9L1523.2 1006.9L1527.8 1008.9L1532.3 1011L1536.9 1013.1L1541.4 1015.2L1545.9 1017.3L1550.5 1019.5L1555 1021.7L1559.5 1023.9L1564 1026.1L1568.4 1028.3L1572.9 1030.6L1577.4 1032.8L1581.8 1035.1L1586.3 1037.4L1590.7 1039.6L1595.2 1041.9L1599.6 1044.3L1604 1046.6L1608.5 1048.9L1612.9 1051.2L1617.3 1053.5L1621.8 1055.8L1626.2 1058.2L1630.6 1060.5L1635 1062.8L1639.5 1065.1L1643.9 1067.5L1648.3 1069.8L1652.8 1072.1L1657.2 1074.4L1661.6 1076.7L1666.1 1079L1670.5 1081.3L1675 1083.6L1679.4 1085.9L1683.9 1088.1L1688.3 1090.4L1692.8 1092.6L1697.2 1094.9L1701.7 1097.1L1706.2 1099.3L1710.7 1101.5L1715.2 1103.7L1719.7 1105.8L1724.2 1108L1728.7 1110.1L1733.3 1112.2L1737.8 1114.3L1742.3 1116.4L1746.9 1118.4L1751.5 1120.5L1756 1122.5L1760.6 1124.5L1765.2 1126.5L1769.8 1128.4L1774.4 1130.3L1779 1132.2L1783.6 1134.1L1788.3 1136L1792.9 1137.8L1797.6 1139.6L1802.2 1141.4L1806.9 1143.2L1811.6 1144.9L1816.3 1146.6L1821 1148.3L1825.7 1149.9L1830.4 1151.6L1835.2 1153.1L1839.9 1154.7L1844.7 1156.3L1849.4 1157.8L1854.2 1159.2L1859 1160.7L1863.8 1162.1L1868.6 1163.5L1873.4 1164.9L1878.2 1166.2L1883 1167.5L1887.8 1168.8L1892.7 1170.1L1897.5 1171.3L1902.4 1172.5L1907.2 1173.7L1912.1 1174.8L1917 1175.9L1921.8 1177L1926.7 1178.1L1931.6 1179.1L1936.5 1180.1L1941.4 1181.1L1946.3 1182L1951.2 1182.9L1956.1 1183.8L1961.1 1184.7L1966 1185.5L1970.9 1186.4L1975.8 1187.1L1980.8 1187.9L1985.7 1188.7L1990.7 1189.4L1995.6 1190.1L2000.6 1190.8L2005.5 1191.4L2010.5 1192.1L2015.5 1192.7L2020.4 1193.3L2025.4 1193.8L2030.3 1194.4L2035.3 1194.9L2040.3 1195.5L2045.3 1195.9L2050.2 1196.4L2055.2 1196.9L2060.2 1197.3L2065.2 1197.8L2070.2 1198.2L2075.2 1198.6L2080.1 1199L2085.1 1199.3L2090.1 1199.7L2093.6 1199.9L2093.6 1210.9L2090.1 1210.7L2085.1 1210.3L2080.1 1210L2075.2 1209.6L2070.2 1209.2L2065.2 1208.8L2060.2 1208.3L2055.2 1207.9L2050.2 1207.4L2045.3 1206.9L2040.3 1206.5L2035.3 1205.9L2030.3 1205.4L2025.4 1204.8L2020.4 1204.3L2015.5 1203.7L2010.5 1203.1L2005.5 1202.4L2000.6 1201.8L1995.6 1201.1L1990.7 1200.4L1985.7 1199.7L1980.8 1198.9L1975.8 1198.1L1970.9 1197.4L1966 1196.5L1961.1 1195.7L1956.1 1194.8L1951.2 1193.9L1946.3 1193L1941.4 1192.1L1936.5 1191.1L1931.6 1190.1L1926.7 1189.1L1921.8 1188L1917 1186.9L1912.1 1185.8L1907.2 1184.7L1902.4 1183.5L1897.5 1182.3L1892.7 1181.1L1887.8 1179.8L1883 1178.5L1878.2 1177.2L1873.4 1175.9L1868.6 1174.5L1863.8 1173.1L1859 1171.7L1854.2 1170.2L1849.4 1168.8L1844.7 1167.3L1839.9 1165.7L1835.2 1164.1L1830.4 1162.6L1825.7 1160.9L1821 1159.3L1816.3 1157.6L1811.6 1155.9L1806.9 1154.2L1802.2 1152.4L1797.6 1150.6L1792.9 1148.8L1788.3 1147L1783.6 1145.1L1779 1143.2L1774.4 1141.3L1769.8 1139.4L1765.2 1137.5L1760.6 1135.5L1756 1133.5L1751.5 1131.5L1746.9 1129.4L1742.3 1127.4L1737.8 1125.3L1733.3 1123.2L1728.7 1121.1L1724.2 1119L1719.7 1116.8L1715.2 1114.7L1710.7 1112.5L1706.2 1110.3L1701.7 1108.1L1697.2 1105.9L1692.8 1103.6L1688.3 1101.4L1683.9 1099.1L1679.4 1096.9L1675 1094.6L1670.5 1092.3L1666.1 1090L1661.6 1087.7L1657.2 1085.4L1652.8 1083.1L1648.3 1080.8L1643.9 1078.5L1639.5 1076.1L1635 1073.8L1630.6 1071.5L1626.2 1069.2L1621.8 1066.8L1617.3 1064.5L1612.9 1062.2L1608.5 1059.9L1604 1057.6L1599.6 1055.3L1595.2 1052.9L1590.7 1050.6L1586.3 1048.4L1581.8 1046.1L1577.4 1043.8L1572.9 1041.6L1568.4 1039.3L1564 1037.1L1559.5 1034.9L1555 1032.7L1550.5 1030.5L1545.9 1028.3L1541.4 1026.2L1536.9 1024.1L1532.3 1022L1527.8 1019.9L1523.2 1017.9L1518.6 1015.9L1514 1013.9L1509.4 1011.9L1504.8 1010L1500.2 1008.1L1495.5 1006.2L1490.8 1004.4L1486.2 1002.6L1481.5 1000.9L1476.8 999.2L1472 997.5L1467.3 995.9L1462.5 994.4L1457.8 992.8L1453 991.4L1448.2 990L1443.3 988.6L1438.5 987.3L1433.7 986.1L1428.8 984.9L1423.9 983.8L1419 982.7L1414.1 981.7L1409.2 980.8L1404.3 979.9L1399.3 979.1L1394.4 978.4L1389.4 977.8L1384.4 977.2L1379.5 976.7L1374.5 976.3L1369.5 975.9L1364.5 975.7L1359.5 975.5L1354.5 975.3L1349.5 975.3L1344.5 975.3L1339.5 975.4L1334.5 975.6L1329.5 975.9L1324.5 976.2L1319.5 976.7L1314.6 977.2L1309.6 977.7L1304.7 978.4L1299.7 979.1L1294.8 979.9L1289.8 980.7L1284.9 981.6L1280 982.6L1275.2 983.7L1270.3 984.8L1265.4 985.9L1260.6 987.2L1255.8 988.5L1251 989.8L1246.2 991.2L1241.4 992.7L1236.7 994.2L1231.9 995.7L1227.2 997.3L1222.5 999L1217.8 1000.7L1213.1 1002.4L1208.4 1004.2L1203.8 1006L1199.1 1007.8L1194.5 1009.7L1189.9 1011.6L1185.3 1013.6L1180.7 1015.5L1176.1 1017.5L1171.6 1019.6L1167 1021.6L1162.5 1023.7L1158 1025.8L1153.5 1028L1148.9 1030.1L1144.4 1032.3L1140 1034.5L1135.5 1036.7L1131 1038.9L1126.5 1041.1L1122.1 1043.4L1117.6 1045.7L1113.2 1047.9L1108.7 1050.2L1104.3 1052.5L1099.8 1054.8L1095.4 1057.1L1091 1059.4L1086.5 1061.7L1082.1 1064.1L1077.7 1066.4L1073.3 1068.7L1068.8 1071L1064.4 1073.4L1060 1075.7L1055.6 1078L1051.1 1080.3L1046.7 1082.7L1042.3 1085L1037.8 1087.3L1033.4 1089.6L1028.9 1091.9L1024.5 1094.2L1020 1096.4L1015.6 1098.7L1011.1 1101L1006.6 1103.2L1002.2 1105.5L997.7 1107.7L993.2 1109.9L988.7 1112.1L984.2 1114.3L979.7 1116.4L975.2 1118.6L970.6 1120.7L966.1 1122.9L961.6 1125L957 1127L952.5 1129.1L947.9 1131.1L943.3 1133.2L938.7 1135.2L934.1 1137.2L929.5 1139.1L924.9 1141L920.3 1143L915.6 1144.8L911 1146.7L906.4 1148.6L901.7 1150.4L897 1152.2L892.3 1153.9L887.6 1155.7L882.9 1157.4L878.2 1159.1L873.5 1160.7L868.8 1162.3L864 1163.9L859.3 1165.5L854.5 1167.1L849.7 1168.6L845 1170.1L840.2 1171.5L835.4 1173L830.6 1174.4L825.8 1175.7L821 1177.1L816.1 1178.4L811.3 1179.7L806.4 1180.9L801.6 1182.2L796.7 1183.4L791.9 1184.5L787 1185.7L782.1 1186.8L777.2 1187.9L772.4 1189L767.5 1190L762.5 1191L757.6 1192L752.7 1192.9L747.8 1193.8L742.9 1194.7L738 1195.6L733 1196.5L728.1 1197.3L723.2 1198.1L718.2 1198.9L713.3 1199.6L708.3 1200.3L703.4 1201L698.4 1201.7L693.5 1202.4L688.5 1203L683.5 1203.6L678.6 1204.2L673.6 1204.8L668.6 1205.4L663.7 1205.9L658.7 1206.4L653.7 1206.9L648.7 1207.4L643.8 1207.9L638.8 1208.3L633.8 1208.7L628.8 1209.1L623.8 1209.5L618.8 1209.9L613.9 1210.3L608.9 1210.6L603.9 1211L598.9 1211.3L593.9 1211.6L588.9 1211.9L583.9 1212.2L578.9 1212.5L573.9 1212.8L568.9 1213L563.9 1213.2L559 1213.5L554 1213.7L549 1213.9L544 1214.1L539 1214.3L534 1214.5L529 1214.7L524 1214.8L519 1215L514 1215.2L509 1215.3L504 1215.5L499 1215.6L494 1215.7L489 1215.8L484 1216L479 1216.1L474 1216.2L469 1216.3L464 1216.4L459 1216.5L454 1216.5L449 1216.6L444 1216.7L439 1216.8L434 1216.8L429 1216.9L424 1217L419 1217L414 1217.1L409 1217.1L404 1217.2L399 1217.2L394 1217.3L389 1217.3L384 1217.4L379 1217.4L374 1217.4L369 1217.5L364 1217.5L359 1217.5L354 1217.6L349 1217.6L344 1217.6L339 1217.6L334 1217.7L329 1217.7L324 1217.7L319 1217.7L314 1217.7L309 1217.8L304 1217.8L299 1217.8L294 1217.8L289 1217.8L284 1217.8L279 1217.8L274 1217.8L269 1217.9L264 1217.9L259 1217.9L254 1217.9L249 1217.9L244 1217.9L239 1217.9L234 1217.9L229 1217.9Z"/>
<path fill="#ff00ff" d="M229 1207L234 1207L239 1207L244 1207L249 1207L254 1206.9L259 1206.9L264 1206.9L269 1206.9L274 1206.9L279 1206.9L284 1206.9L289 1206.9L294 1206.8L299 1206.8L304 1206.8L309 1206.8L314 1206.7L319 1206.7L324 1206.6L329 1206.6L334 1206.5L339 1206.5L344 1206.4L349 1206.3L354 1206.2L359 1206.1L364 1206L369 1205.9L374 1205.8L379 1205.6L384 1205.5L389 1205.3L394 1205.1L399 1204.8L404 1204.6L409 1204.3L413.9 1204L418.9 1203.6L423.9 1203.3L428.9 1202.9L433.9 1202.4L438.9 1201.9L443.9 1201.4L448.8 1200.8L453.8 1200.1L458.7 1199.4L463.7 1198.6L468.6 1197.8L473.5 1196.9L478.4 1195.9L483.3 1194.8L488.2 1193.7L493.1 1192.4L497.9 1191.1L502.7 1189.6L507.5 1188.1L512.2 1186.5L516.9 1184.7L521.6 1182.8L526.2 1180.9L530.8 1178.8L535.3 1176.6L539.8 1174.3L544.2 1171.9L548.5 1169.3L552.8 1166.7L557 1163.9L561.2 1161.1L565.3 1158.1L569.3 1155L573.2 1151.9L577.1 1148.6L580.9 1145.3L584.6 1141.9L588.3 1138.4L591.8 1134.8L595.4 1131.2L598.8 1127.5L602.1 1123.7L602.1 1134.7L598.8 1138.5L595.4 1142.2L591.8 1145.8L588.3 1149.4L584.6 1152.9L580.9 1156.3L577.1 1159.6L573.2 1162.9L569.3 1166L565.3 1169.1L561.2 1172.1L557 1174.9L552.8 1177.7L548.5 1180.3L544.2 1182.9L539.8 1185.3L535.3 1187.6L530.8 1189.8L526.2 1191.9L521.6 1193.8L516.9 1195.7L512.2 1197.5L507.5 1199.1L502.7 1200.6L497.9 1202.1L493.1 1203.4L488.2 1204.7L483.3 1205.8L478.4 1206.9L473.5 1207.9L468.6 1208.8L463.7 1209.6L458.7 1210.4L453.8 1211.1L448.8 1211.8L443.9 1212.4L438.9 1212.9L433.9 1213.4L428.9 1213.9L423.9 1214.3L418.9 1214.6L413.9 1215L409 1215.3L404 1215.6L399 1215.8L394 1216.1L389 1216.3L384 1216.5L379 1216.6L374 1216.8L369 1216.9L364 1217L359 1217.1L354 1217.2L349 1217.3L344 1217.4L339 1217.5L334 1217.5L329 1217.6L324 1217.6L319 1217.7L314 1217.7L309 1217.8L304 1217.8L299 1217.8L294 1217.8L289 1217.9L284 1217.9L279 1217.9L274 1217.9L269 1217.9L264 1217.9L259 1217.9L254 1217.9L249 1218L244 1218L239 1218L234 1218L229 1218ZM575.4 1150.8L579.1 1147.4L582.8 1143.9L586.3 1140.3L589.9 1136.7L593.3 1133L596.6 1129.2L600 1125.4L603.2 1121.5L606.4 1117.6L609.5 1113.6L612.5 1109.6L615.5 1105.6L618.5 1101.5L621.4 1097.3L624.2 1093.2L627 1088.9L629.7 1084.7L632.4 1080.4L635.1 1076.2L637.7 1071.8L640.2 1067.5L642.7 1063.1L645.2 1058.8L647.7 1054.4L650.1 1049.9L652.5 1045.5L654.8 1041L657.1 1036.6L659.4 1032.1L661.6 1027.6L663.9 1023.1L666.1 1018.5L668.2 1014L670.4 1009.5L672.5 1004.9L674.6 1000.3L676.7 995.7L678.7 991.1L680.7 986.5L682.7 982L684.7 977.3L686.7 972.7L688.6 968.1L690.6 963.4L692.5 958.8L694.4 954.2L696.3 949.5L698.2 944.8L700 940.2L701.9 935.5L703.7 930.8L705.5 926.2L707.3 921.5L709.1 916.8L710.9 912.1L712.6 907.4L714.4 902.7L716.1 898L717.9 893.3L719.6 888.6L721.3 883.9L723 879.2L724.7 874.5L726.4 869.8L728.1 865L729.8 860.3L731.5 855.6L733.1 850.9L734.8 846.1L736.4 841.4L738.1 836.7L739.7 832L741.3 827.2L743 822.5L744.6 817.7L746.2 813L747.8 808.3L749.5 803.5L751.1 798.8L752.7 794L754.3 789.3L755.9 784.6L757.5 779.8L759.1 775.1L760.7 770.4L762.3 765.6L763.9 760.9L765.5 756.1L767.1 751.4L768.7 746.7L770.3 741.9L771.9 737.2L773.5 732.5L775.1 727.7L776.7 723L778.3 718.3L779.9 713.5L781.5 708.8L783.1 704.1L784.7 699.4L786.4 694.6L788 689.9L789.6 685.2L791.3 680.5L792.9 675.8L794.5 671.1L796.2 666.4L797.9 661.6L799.5 656.9L801.2 652.3L802.9 647.6L804.6 642.9L806.3 638.2L808 633.5L809.7 628.8L811.5 624.2L813.2 619.5L815 614.8L816.8 610.2L818.6 605.5L820.4 600.9L822.2 596.3L824 591.7L825.9 587L827.8 582.4L829.7 577.8L831.6 573.3L833.5 568.7L835.5 564.1L837.5 559.6L839.6 555.1L841.6 550.6L843.7 546.1L845.9 541.6L848 537.1L850.2 532.7L852.5 528.3L854.8 523.9L857.2 519.6L859.6 515.3L862.1 511L864.6 506.8L867.2 502.7L869.9 498.6L872.7 494.5L875.6 490.6L878.7 486.7L881.8 483L885.1 479.3L888.6 475.9L892.2 472.7L896 469.7L907 469.7L903.2 472.7L899.6 475.9L896.1 479.3L892.8 483L889.7 486.7L886.6 490.6L883.7 494.5L880.9 498.6L878.2 502.7L875.6 506.8L873.1 511L870.6 515.3L868.2 519.6L865.8 523.9L863.5 528.3L861.2 532.7L859 537.1L856.9 541.6L854.7 546.1L852.6 550.6L850.6 555.1L848.5 559.6L846.5 564.1L844.5 568.7L842.6 573.3L840.7 577.8L838.8 582.4L836.9 587L835 591.7L833.2 596.3L831.4 600.9L829.6 605.5L827.8 610.2L826 614.8L824.2 619.5L822.5 624.2L820.7 628.8L819 633.5L817.3 638.2L815.6 642.9L813.9 647.6L812.2 652.3L810.5 656.9L808.9 661.6L807.2 666.4L805.5 671.1L803.9 675.8L802.3 680.5L800.6 685.2L799 689.9L797.4 694.6L795.7 699.4L794.1 704.1L792.5 708.8L790.9 713.5L789.3 718.3L787.7 723L786.1 727.7L784.5 732.5L782.9 737.2L781.3 741.9L779.7 746.7L778.1 751.4L776.5 756.1L774.9 760.9L773.3 765.6L771.7 770.4L770.1 775.1L768.5 779.8L766.9 784.6L765.3 789.3L763.7 794L762.1 798.8L760.5 803.5L758.8 808.3L757.2 813L755.6 817.7L754 822.5L752.3 827.2L750.7 832L749.1 836.7L747.4 841.4L745.8 846.1L744.1 850.9L742.5 855.6L740.8 860.3L739.1 865L737.4 869.8L735.7 874.5L734 879.2L732.3 883.9L730.6 888.6L728.9 893.3L727.1 898L725.4 902.7L723.6 907.4L721.9 912.1L720.1 916.8L718.3 921.5L716.5 926.2L714.7 930.8L712.9 935.5L711 940.2L709.2 944.8L707.3 949.5L705.4 954.2L703.5 958.8L701.6 963.4L699.6 968.1L697.7 972.7L695.7 977.3L693.7 982L691.7 986.5L689.7 991.1L687.7 995.7L685.6 1000.3L683.5 1004.9L681.4 1009.5L679.2 1014L677.1 1018.5L674.9 1023.1L672.6 1027.6L670.4 1032.1L668.1 1036.6L665.8 1041L663.5 1045.5L661.1 1049.9L658.7 1054.4L656.2 1058.8L653.7 1063.1L651.2 1067.5L648.7 1071.8L646.1 1076.2L643.4 1080.4L640.7 1084.7L638 1088.9L635.2 1093.2L632.4 1097.3L629.5 1101.5L626.5 1105.6L623.5 1109.6L620.5 1113.6L617.4 1117.6L614.2 1121.5L611 1125.4L607.6 1129.2L604.3 1133L600.9 1136.7L597.3 1140.3L593.8 1143.9L590.1 1147.4L586.4 1150.8ZM881.1 485.1L884.2 481.2L887.3 477.5L890.6 473.8L894.1 470.4L897.7 467.2L901.5 464.2L905.6 461.5L909.9 459.3L914.5 457.5L919.2 456.4L924.2 456L929.2 456.4L934.1 457.5L938.9 459.4L943.4 461.8L947.7 464.7L951.7 467.9L955.5 471.3L959.1 475L962.5 478.9L965.7 482.8L965.7 493.8L962.5 489.9L959.1 486L955.5 482.3L951.7 478.9L947.7 475.7L943.4 472.8L938.9 470.4L934.1 468.5L929.2 467.4L924.2 467L919.2 467.4L914.5 468.5L909.9 470.3L905.6 472.5L901.5 475.2L897.7 478.2L894.1 481.4L890.6 484.8L887.3 488.5L884.2 492.2L881.1 496.1ZM948.9 467.3L953.2 470.2L957.2 473.4L961 476.8L964.6 480.5L968 484.4L971.2 488.3L974.3 492.4L977.3 496.5L980.1 500.8L982.9 505L985.5 509.4L988.1 513.7L990.6 518.1L993.1 522.6L995.4 527L997.8 531.5L1000 536.1L1002.3 540.6L1004.4 545.1L1006.6 549.7L1008.7 554.3L1010.8 558.9L1012.8 563.5L1014.8 568.1L1016.8 572.7L1018.7 577.4L1020.6 582L1022.6 586.7L1024.4 591.3L1026.3 596L1028.1 600.7L1030 605.4L1031.8 610.1L1033.6 614.7L1035.3 619.4L1037.1 624.1L1038.9 628.8L1040.6 633.5L1042.3 638.2L1044 643L1045.7 647.7L1047.4 652.4L1049.1 657.1L1050.8 661.8L1052.5 666.6L1054.1 671.3L1055.8 676L1057.4 680.7L1059.1 685.5L1060.7 690.2L1062.3 694.9L1064 699.7L1065.6 704.4L1067.2 709.2L1068.8 713.9L1070.4 718.6L1072 723.4L1073.7 728.1L1075.2 732.8L1076.8 737.6L1078.5 742.3L1080 747.1L1081.7 751.8L1083.2 756.6L1084.8 761.3L1086.4 766L1088 770.8L1089.6 775.5L1091.2 780.2L1092.8 785L1094.5 789.7L1096 794.4L1097.7 799.2L1099.3 803.9L1100.9 808.6L1102.5 813.4L1104.1 818.1L1105.7 822.8L1107.4 827.5L1109 832.2L1110.6 836.9L1112.3 841.7L1113.9 846.4L1115.6 851.1L1117.2 855.8L1118.9 860.5L1120.6 865.2L1122.2 869.9L1123.9 874.6L1125.6 879.3L1127.3 884L1129 888.6L1130.7 893.3L1132.5 898L1134.2 902.7L1136 907.4L1137.7 912L1139.5 916.7L1141.2 921.3L1143 926L1144.8 930.6L1146.7 935.3L1148.5 939.9L1150.3 944.5L1152.2 949.2L1154 953.8L1155.9 958.4L1157.8 963L1159.7 967.6L1161.7 972.2L1163.6 976.8L1165.6 981.3L1167.6 985.9L1169.6 990.4L1171.6 995L1173.7 999.5L1175.7 1004L1177.8 1008.6L1179.9 1013.1L1182.1 1017.5L1184.2 1022L1186.4 1026.5L1188.6 1030.9L1190.9 1035.4L1193.2 1039.8L1195.5 1044.2L1197.8 1048.6L1200.2 1052.9L1202.5 1057.3L1205 1061.6L1207.5 1065.9L1210 1070.2L1212.5 1074.4L1215.1 1078.7L1217.7 1082.9L1220.4 1087.1L1223.1 1091.2L1225.9 1095.3L1228.7 1099.4L1231.5 1103.4L1234.5 1107.5L1237.4 1111.4L1240.5 1115.4L1243.5 1119.2L1246.7 1123.1L1249.9 1126.8L1253.1 1130.6L1256.5 1134.2L1259.8 1137.8L1263.3 1141.4L1266.8 1144.9L1270.4 1148.3L1274.1 1151.6L1263.1 1151.6L1259.4 1148.3L1255.8 1144.9L1252.3 1141.4L1248.8 1137.8L1245.5 1134.2L1242.1 1130.6L1238.9 1126.8L1235.7 1123.1L1232.5 1119.2L1229.5 1115.4L1226.4 1111.4L1223.5 1107.5L1220.5 1103.4L1217.7 1099.4L1214.9 1095.3L1212.1 1091.2L1209.4 1087.1L1206.7 1082.9L1204.1 1078.7L1201.5 1074.4L1199 1070.2L1196.5 1065.9L1194 1061.6L1191.5 1057.3L1189.2 1052.9L1186.8 1048.6L1184.5 1044.2L1182.2 1039.8L1179.9 1035.4L1177.6 1030.9L1175.4 1026.5L1173.2 1022L1171.1 1017.5L1168.9 1013.1L1166.8 1008.6L1164.7 1004L1162.7 999.5L1160.6 995L1158.6 990.4L1156.6 985.9L1154.6 981.3L1152.6 976.8L1150.7 972.2L1148.7 967.6L1146.8 963L1144.9 958.4L1143 953.8L1141.2 949.2L1139.3 944.5L1137.5 939.9L1135.7 935.3L1133.8 930.6L1132 926L1130.2 921.3L1128.5 916.7L1126.7 912L1125 907.4L1123.2 902.7L1121.5 898L1119.7 893.3L1118 888.6L1116.3 884L1114.6 879.3L1112.9 874.6L1111.2 869.9L1109.6 865.2L1107.9 860.5L1106.2 855.8L1104.6 851.1L1102.9 846.4L1101.3 841.7L1099.6 836.9L1098 832.2L1096.4 827.5L1094.7 822.8L1093.1 818.1L1091.5 813.4L1089.9 808.6L1088.3 803.9L1086.7 799.2L1085 794.4L1083.5 789.7L1081.8 785L1080.2 780.2L1078.6 775.5L1077 770.8L1075.4 766L1073.8 761.3L1072.2 756.6L1070.7 751.8L1069 747.1L1067.5 742.3L1065.8 737.6L1064.2 732.8L1062.7 728.1L1061 723.4L1059.4 718.6L1057.8 713.9L1056.2 709.2L1054.6 704.4L1053 699.7L1051.3 694.9L1049.7 690.2L1048.1 685.5L1046.4 680.7L1044.8 676L1043.1 671.3L1041.5 666.6L1039.8 661.8L1038.1 657.1L1036.4 652.4L1034.7 647.7L1033 643L1031.3 638.2L1029.6 633.5L1027.9 628.8L1026.1 624.1L1024.3 619.4L1022.6 614.7L1020.8 610.1L1019 605.4L1017.1 600.7L1015.3 596L1013.4 591.3L1011.6 586.7L1009.6 582L1007.7 577.4L1005.8 572.7L1003.8 568.1L1001.8 563.5L999.8 558.9L997.7 554.3L995.6 549.7L993.4 545.1L991.3 540.6L989 536.1L986.8 531.5L984.4 527L982.1 522.6L979.6 518.1L977.1 513.7L974.5 509.4L971.9 505L969.1 500.8L966.3 496.5L963.3 492.4L960.2 488.3L957 484.4L953.6 480.5L950 476.8L946.2 473.4L942.2 470.2L937.9 467.3ZM1247.6 1125.1L1251 1128.7L1254.3 1132.3L1257.8 1135.9L1261.3 1139.4L1264.9 1142.8L1268.6 1146.1L1272.3 1149.3L1276.1 1152.5L1280 1155.6L1284 1158.6L1288 1161.5L1292.1 1164.3L1296.2 1167L1300.5 1169.6L1304.8 1172.1L1309.1 1174.4L1313.5 1176.7L1318 1178.9L1322.5 1180.9L1327.1 1182.9L1331.7 1184.7L1336.4 1186.5L1341.1 1188.1L1345.8 1189.6L1350.6 1191L1355.4 1192.4L1360.3 1193.6L1365.1 1194.8L1370 1195.8L1374.9 1196.8L1379.8 1197.8L1384.7 1198.6L1389.7 1199.4L1394.6 1200.1L1399.5 1200.7L1404.5 1201.3L1409.5 1201.9L1414.4 1202.4L1419.4 1202.8L1424.4 1203.3L1429.4 1203.6L1434.4 1204L1439.4 1204.3L1444.3 1204.6L1449.3 1204.8L1454.3 1205.1L1459.3 1205.3L1464.3 1205.4L1469.3 1205.6L1474.3 1205.8L1479.3 1205.9L1484.3 1206L1489.3 1206.1L1494.3 1206.2L1499.3 1206.3L1504.3 1206.4L1509.3 1206.5L1514.3 1206.5L1519.3 1206.6L1524.3 1206.6L1529.3 1206.7L1534.3 1206.7L1539.3 1206.8L1544.3 1206.8L1549.3 1206.8L1554.3 1206.8L1559.3 1206.9L1564.3 1206.9L1569.3 1206.9L1574.3 1206.9L1579.3 1206.9L1584.3 1206.9L1589.3 1206.9L1594.3 1206.9L1599.3 1207L1604.3 1207L1609.3 1207L1614.3 1207L1619.3 1207L1624.3 1207L1629.3 1207L1634.3 1207L1639.3 1207L1644.3 1207L1649.3 1207L1654.3 1207L1659.3 1207L1664.3 1207L1669.3 1207L1674.3 1207L1679.3 1207L1684.3 1207L1689.3 1207L1694.3 1207L1699.3 1207L1704.3 1207L1709.3 1207L1714.3 1207L1719.3 1207L1724.3 1207L1729.3 1207L1734.3 1207L1739.3 1207L1744.3 1207L1749.3 1207L1754.3 1207L1759.3 1207L1764.3 1207L1769.3 1207L1774.3 1207L1779.3 1207L1784.3 1207L1789.3 1207L1794.3 1207L1799.3 1207L1804.3 1207L1809.3 1207L1814.3 1207L1819.3 1207L1824.3 1207L1829.3 1207L1834.3 1207L1839.3 1207L1844.3 1207L1849.3 1207L1854.3 1207L1859.3 1207L1864.3 1207L1869.3 1207L1874.3 1207L1879.3 1207L1884.3 1207L1889.3 1207L1894.3 1207L1899.3 1207L1904.3 1207L1909.3 1207L1914.3 1207L1919.3 1207L1924.3 1207L1929.3 1207L1934.3 1207L1939.3 1207L1944.3 1207L1949.3 1207L1954.3 1207L1959.3 1207L1964.3 1207L1969.3 1207L1974.3 1207L1979.3 1207L1984.3 1207L1989.3 1207L1994.3 1207L1999.3 1207L2004.3 1207L2009.3 1207L2014.3 1207L2019.3 1207L2024.3 1207L2029.3 1207L2034.3 1207L2039.3 1207L2044.3 1207L2049.3 1207L2054.3 1207L2059.3 1207L2064.3 1207L2069.3 1207L2074.3 1207L2079.3 1207L2084.3 1207L2089.3 1207L2093.6 1207L2093.6 1218L2089.3 1218L2084.3 1218L2079.3 1218L2074.3 1218L2069.3 1218L2064.3 1218L2059.3 1218L2054.3 1218L2049.3 1218L2044.3 1218L2039.3 1218L2034.3 1218L2029.3 1218L2024.3 1218L2019.3 1218L2014.3 1218L2009.3 1218L2004.3 1218L1999.3 1218L1994.3 1218L1989.3 1218L1984.3 1218L1979.3 1218L1974.3 1218L1969.3 1218L1964.3 1218L1959.3 1218L1954.3 1218L1949.3 1218L1944.3 1218L1939.3 1218L1934.3 1218L1929.3 1218L1924.3 1218L1919.3 1218L1914.3 1218L1909.3 1218L1904.3 1218L1899.3 1218L1894.3 1218L1889.3 1218L1884.3 1218L1879.3 1218L1874.3 1218L1869.3 1218L1864.3 1218L1859.3 1218L1854.3 1218L1849.3 1218L1844.3 1218L1839.3 1218L1834.3 1218L1829.3 1218L1824.3 1218L1819.3 1218L1814.3 1218L1809.3 1218L1804.3 1218L1799.3 1218L1794.3 1218L1789.3 1218L1784.3 1218L1779.3 1218L1774.3 1218L1769.3 1218L1764.3 1218L1759.3 1218L1754.3 1218L1749.3 1218L1744.3 1218L1739.3 1218L1734.3 1218L1729.3 1218L1724.3 1218L1719.3 1218L1714.3 1218L1709.3 1218L1704.3 1218L1699.3 1218L1694.3 1218L1689.3 1218L1684.3 1218L1679.3 1218L1674.3 1218L1669.3 1218L1664.3 1218L1659.3 1218L1654.3 1218L1649.3 1218L1644.3 1218L1639.3 1218L1634.3 1218L1629.3 1218L1624.3 1218L1619.3 1218L1614.3 1218L1609.3 1218L1604.3 1218L1599.3 1218L1594.3 1217.9L1589.3 1217.9L1584.3 1217.9L1579.3 1217.9L1574.3 1217.9L1569.3 1217.9L1564.3 1217.9L1559.3 1217.9L1554.3 1217.8L1549.3 1217.8L1544.3 1217.8L1539.3 1217.8L1534.3 1217.7L1529.3 1217.7L1524.3 1217.6L1519.3 1217.6L1514.3 1217.5L1509.3 1217.5L1504.3 1217.4L1499.3 1217.3L1494.3 1217.2L1489.3 1217.1L1484.3 1217L1479.3 1216.9L1474.3 1216.8L1469.3 1216.6L1464.3 1216.4L1459.3 1216.3L1454.3 1216.1L1449.3 1215.8L1444.3 1215.6L1439.4 1215.3L1434.4 1215L1429.4 1214.6L1424.4 1214.3L1419.4 1213.8L1414.4 1213.4L1409.5 1212.9L1404.5 1212.3L1399.5 1211.7L1394.6 1211.1L1389.7 1210.4L1384.7 1209.6L1379.8 1208.8L1374.9 1207.8L1370 1206.8L1365.1 1205.8L1360.3 1204.6L1355.4 1203.4L1350.6 1202L1345.8 1200.6L1341.1 1199.1L1336.4 1197.5L1331.7 1195.7L1327.1 1193.9L1322.5 1191.9L1318 1189.9L1313.5 1187.7L1309.1 1185.4L1304.8 1183.1L1300.5 1180.6L1296.2 1178L1292.1 1175.3L1288 1172.5L1284 1169.6L1280 1166.6L1276.1 1163.5L1272.3 1160.3L1268.6 1157.1L1264.9 1153.8L1261.3 1150.4L1257.8 1146.9L1254.3 1143.3L1251 1139.7L1247.6 1136.1Z"/>
<path fill="#008000" d="M229 1205.5L234 1205.2L239 1204.9L244 1204.6L249 1204.3L254 1203.9L258.9 1203.4L263.9 1202.9L268.9 1202.4L273.9 1201.8L278.8 1201.1L283.8 1200.3L288.7 1199.4L293.6 1198.5L298.5 1197.4L303.4 1196.3L308.2 1195L313.1 1193.6L317.9 1192.1L322.6 1190.5L327.3 1188.8L332 1186.9L336.6 1184.9L341.1 1182.8L345.6 1180.5L350.1 1178.1L354.4 1175.6L358.7 1172.9L363 1170.2L367.1 1167.3L371.2 1164.3L375.2 1161.2L379.1 1158L382.9 1154.8L386.7 1151.4L390.4 1148L394 1144.4L397.6 1140.9L401.1 1137.2L404.5 1133.5L404.5 1144.5L401.1 1148.2L397.6 1151.9L394 1155.4L390.4 1159L386.7 1162.4L382.9 1165.8L379.1 1169L375.2 1172.2L371.2 1175.3L367.1 1178.3L363 1181.2L358.7 1183.9L354.4 1186.6L350.1 1189.1L345.6 1191.5L341.1 1193.8L336.6 1195.9L332 1197.9L327.3 1199.8L322.6 1201.5L317.9 1203.1L313.1 1204.6L308.2 1206L303.4 1207.3L298.5 1208.4L293.6 1209.5L288.7 1210.4L283.8 1211.3L278.8 1212.1L273.9 1212.8L268.9 1213.4L263.9 1213.9L258.9 1214.4L254 1214.9L249 1215.3L244 1215.6L239 1215.9L234 1216.2L229 1216.5ZM377.4 1160.3L381.2 1156.9L384.9 1153.5L388.5 1149.9L392.1 1146.4L395.6 1142.7L399 1139L402.4 1135.3L405.7 1131.4L408.9 1127.6L412.1 1123.7L415.2 1119.8L418.4 1115.8L421.4 1111.8L424.4 1107.8L427.4 1103.7L430.3 1099.6L433.2 1095.5L436.1 1091.4L438.9 1087.2L441.7 1083.1L444.5 1078.9L447.3 1074.7L450 1070.5L452.7 1066.3L455.4 1062L458.1 1057.8L460.8 1053.6L463.5 1049.4L466.1 1045.1L468.8 1040.9L471.4 1036.6L474.1 1032.4L476.7 1028.1L479.4 1023.9L482 1019.6L484.6 1015.4L487.3 1011.2L490 1007L492.7 1002.8L495.4 998.6L498.1 994.4L500.8 990.3L503.6 986.1L506.4 982L509.2 977.9L512.1 973.9L515 969.9L518 965.9L521 961.9L524 958L527.1 954.2L530.3 950.5L533.6 946.8L537 943.2L540.5 939.7L544 936.3L547.7 933.1L551.6 930L562.6 930L558.7 933.1L555 936.3L551.5 939.7L548 943.2L544.6 946.8L541.3 950.5L538.1 954.2L535 958L532 961.9L529 965.9L526 969.9L523.1 973.9L520.2 977.9L517.4 982L514.6 986.1L511.8 990.3L509.1 994.4L506.4 998.6L503.7 1002.8L501 1007L498.3 1011.2L495.6 1015.4L493 1019.6L490.4 1023.9L487.7 1028.1L485.1 1032.4L482.4 1036.6L479.8 1040.9L477.1 1045.1L474.5 1049.4L471.8 1053.6L469.1 1057.8L466.4 1062L463.7 1066.3L461 1070.5L458.3 1074.7L455.5 1078.9L452.7 1083.1L449.9 1087.2L447.1 1091.4L444.2 1095.5L441.3 1099.6L438.4 1103.7L435.4 1107.8L432.4 1111.8L429.4 1115.8L426.2 1119.8L423.1 1123.7L419.9 1127.6L416.7 1131.4L413.4 1135.3L410 1139L406.6 1142.7L403.1 1146.4L399.5 1149.9L395.9 1153.5L392.2 1156.9L388.4 1160.3ZM535.8 945L539.1 941.3L542.5 937.7L546 934.2L549.5 930.8L553.2 927.6L557.1 924.5L561 921.6L565.2 919L569.5 916.7L574 914.7L578.6 913.2L583.5 912.1L588.4 911.6L593.4 911.6L598.4 912.2L603.3 913.4L608.1 915.1L612.7 917.3L617.1 919.8L621.4 922.6L625.5 925.7L629.4 928.9L633.2 932.4L636.8 935.9L640.3 939.6L643.7 943.3L647 947.2L647 958.2L643.7 954.3L640.3 950.6L636.8 946.9L633.2 943.4L629.4 939.9L625.5 936.7L621.4 933.6L617.1 930.8L612.7 928.3L608.1 926.1L603.3 924.4L598.4 923.2L593.4 922.6L588.4 922.6L583.5 923.1L578.6 924.2L574 925.7L569.5 927.7L565.2 930L561 932.6L557.1 935.5L553.2 938.6L549.5 941.8L546 945.2L542.5 948.7L539.1 952.3L535.8 956ZM631 931.2L634.9 934.4L638.7 937.9L642.3 941.4L645.8 945.1L649.2 948.8L652.5 952.7L655.8 956.6L658.9 960.5L662 964.5L665 968.5L668 972.6L670.9 976.7L673.8 980.9L676.6 985L679.5 989.2L682.2 993.4L685 997.6L687.7 1001.8L690.4 1006L693.1 1010.3L695.8 1014.5L698.4 1018.7L701.1 1023L703.7 1027.2L706.4 1031.5L709 1035.7L711.7 1040L714.3 1044.2L717 1048.4L719.6 1052.7L722.3 1056.9L725 1061.1L727.6 1065.3L730.3 1069.5L733 1073.7L735.8 1077.8L738.5 1082L741.3 1086.1L744.1 1090.2L747 1094.3L749.8 1098.4L752.7 1102.4L755.6 1106.4L758.6 1110.4L761.6 1114.4L764.6 1118.3L767.7 1122.2L770.8 1126.1L774 1129.9L777.2 1133.6L780.5 1137.3L783.9 1141L787.2 1144.6L790.7 1148.2L794.2 1151.7L797.8 1155.1L801.5 1158.4L790.5 1158.4L786.8 1155.1L783.2 1151.7L779.7 1148.2L776.2 1144.6L772.9 1141L769.5 1137.3L766.2 1133.6L763 1129.9L759.8 1126.1L756.7 1122.2L753.6 1118.3L750.6 1114.4L747.6 1110.4L744.6 1106.4L741.7 1102.4L738.8 1098.4L736 1094.3L733.1 1090.2L730.3 1086.1L727.5 1082L724.8 1077.8L722 1073.7L719.3 1069.5L716.6 1065.3L714 1061.1L711.3 1056.9L708.6 1052.7L706 1048.4L703.3 1044.2L700.7 1040L698 1035.7L695.4 1031.5L692.7 1027.2L690.1 1023L687.4 1018.7L684.8 1014.5L682.1 1010.3L679.4 1006L676.7 1001.8L674 997.6L671.2 993.4L668.5 989.2L665.6 985L662.8 980.9L659.9 976.7L657 972.6L654 968.5L651 964.5L647.9 960.5L644.8 956.6L641.5 952.7L638.2 948.8L634.8 945.1L631.3 941.4L627.7 937.9L623.9 934.4L620 931.2ZM775 1131.8L778.4 1135.5L781.8 1139.1L785.2 1142.7L788.7 1146.2L792.3 1149.6L796 1152.9L799.7 1156.2L803.5 1159.3L807.4 1162.4L811.3 1165.4L815.3 1168.3L819.4 1171.1L823.6 1173.8L827.9 1176.3L832.2 1178.8L836.5 1181.1L841 1183.3L845.5 1185.4L850.1 1187.3L854.7 1189.2L859.4 1190.9L864.1 1192.4L868.9 1193.9L873.7 1195.3L878.5 1196.5L883.4 1197.6L888.2 1198.6L893.1 1199.6L898.1 1200.4L903 1201.2L908 1201.9L912.9 1202.5L917.9 1203L922.8 1203.5L927.8 1204L932.8 1204.3L937.8 1204.7L942.8 1205L947.8 1205.3L952.8 1205.5L957.8 1205.7L962.8 1205.9L967.8 1206L972.8 1206.2L977.8 1206.3L982.8 1206.4L987.8 1206.5L992.8 1206.6L997.8 1206.6L1002.8 1206.7L1007.8 1206.7L1012.8 1206.8L1017.8 1206.8L1022.8 1206.8L1027.8 1206.9L1032.8 1206.9L1037.8 1206.9L1042.8 1206.9L1047.8 1206.9L1052.8 1206.9L1057.8 1207L1062.8 1207L1067.8 1207L1072.8 1207L1077.8 1207L1082.8 1207L1087.8 1207L1092.8 1207L1097.8 1207L1102.8 1207L1107.8 1207L1112.8 1207L1117.8 1207L1122.8 1207L1127.8 1207L1132.8 1207L1137.8 1207L1142.8 1207L1147.8 1207L1152.8 1207L1157.8 1207L1162.8 1207L1167.8 1207L1172.8 1207L1177.8 1207L1182.8 1207L1187.8 1207L1192.8 1207L1197.8 1207L1202.8 1207L1207.8 1207L1212.8 1207L1217.8 1207L1222.8 1207L1227.8 1207L1232.8 1207L1237.8 1207L1242.8 1207L1247.8 1207L1252.8 1207L1257.8 1207L1262.8 1207L1267.8 1207L1272.8 1207L1277.8 1207L1282.8 1207L1287.8 1207L1292.8 1207L1297.8 1207L1302.8 1207L1307.8 1207L1312.8 1207L1317.8 1207L1322.8 1207L1327.8 1207L1332.8 1207L1337.8 1207L1342.8 1207L1347.8 1207L1352.8 1207L1357.8 1207L1362.8 1207L1367.8 1207L1372.8 1207L1377.8 1207L1382.8 1207L1387.8 1207L1392.8 1207L1397.8 1207L1402.8 1207L1407.8 1207L1412.8 1207L1417.8 1207L1422.8 1207L1427.8 1207L1432.8 1207L1437.8 1207L1442.8 1207L1447.8 1207L1452.8 1207L1457.8 1207L1462.8 1207L1467.8 1207L1472.8 1207L1477.8 1207L1482.8 1207L1487.8 1207L1492.8 1207L1497.8 1207L1502.8 1207L1507.8 1207L1512.8 1207L1517.8 1207L1522.8 1207L1527.8 1207L1532.8 1207L1537.8 1207L1542.8 1207L1547.8 1207L1552.8 1207L1557.8 1207L1562.8 1207L1567.8 1207L1572.8 1207L1577.8 1207L1582.8 1207L1587.8 1207L1592.8 1207L1597.8 1207L1602.8 1207L1607.8 1207L1612.8 1207L1617.8 1207L1622.8 1207L1627.8 1207L1632.8 1207L1637.8 1207L1642.8 1207L1647.8 1207L1652.8 1207L1657.8 1207L1662.8 1207L1667.8 1207L1672.8 1207L1677.8 1207L1682.8 1207L1687.8 1207L1692.8 1207L1697.8 1207L1702.8 1207L1707.8 1207L1712.8 1207L1717.8 1207L1722.8 1207L1727.8 1207L1732.8 1207L1737.8 1207L1742.8 1207L1747.8 1207L1752.8 1207L1757.8 1207L1762.8 1207L1767.8 1207L1772.8 1207L1777.8 1207L1782.8 1207L1787.8 1207L1792.8 1207L1797.8 1207L1802.8 1207L1807.8 1207L1812.8 1207L1817.8 1207L1822.8 1207L1827.8 1207L1832.8 1207L1837.8 1207L1842.8 1207L1847.8 1207L1852.8 1207L1857.8 1207L1862.8 1207L1867.8 1207L1872.8 1207L1877.8 1207L1882.8 1207L1887.8 1207L1892.8 1207L1897.8 1207L1902.8 1207L1907.8 1207L1912.8 1207L1917.8 1207L1922.8 1207L1927.8 1207L1932.8 1207L1937.8 1207L1942.8 1207L1947.8 1207L1952.8 1207L1957.8 1207L1962.8 1207L1967.8 1207L1972.8 1207L1977.8 1207L1982.8 1207L1987.8 1207L1992.8 1207L1997.8 1207L2002.8 1207L2007.8 1207L2012.8 1207L2017.8 1207L2022.8 1207L2027.8 1207L2032.8 1207L2037.8 1207L2042.8 1207L2047.8 1207L2052.8 1207L2057.8 1207L2062.8 1207L2067.8 1207L2072.8 1207L2077.8 1207L2082.8 1207L2087.8 1207L2092.8 1207L2093.6 1207L2093.6 1218L2092.8 1218L2087.8 1218L2082.8 1218L2077.8 1218L2072.8 1218L2067.8 1218L2062.8 1218L2057.8 1218L2052.8 1218L2047.8 1218L2042.8 1218L2037.8 1218L2032.8 1218L2027.8 1218L2022.8 1218L2017.8 1218L2012.8 1218L2007.8 1218L2002.8 1218L1997.8 1218L1992.8 1218L1987.8 1218L1982.8 1218L1977.8 1218L1972.8 1218L1967.8 1218L1962.8 1218L1957.8 1218L1952.8 1218L1947.8 1218L1942.8 1218L1937.8 1218L1932.8 1218L1927.8 1218L1922.8 1218L1917.8 1218L1912.8 1218L1907.8 1218L1902.8 1218L1897.8 1218L1892.8 1218L1887.8 1218L1882.8 1218L1877.8 1218L1872.8 1218L1867.8 1218L1862.8 1218L1857.8 1218L1852.8 1218L1847.8 1218L1842.8 1218L1837.8 1218L1832.8 1218L1827.8 1218L1822.8 1218L1817.8 1218L1812.8 1218L1807.8 1218L1802.8 1218L1797.8 1218L1792.8 1218L1787.8 1218L1782.8 1218L1777.8 1218L1772.8 1218L1767.8 1218L1762.8 1218L1757.8 1218L1752.8 1218L1747.8 1218L1742.8 1218L1737.8 1218L1732.8 1218L1727.8 1218L1722.8 1218L1717.8 1218L1712.8 1218L1707.8 1218L1702.8 1218L1697.8 1218L1692.8 1218L1687.8 1218L1682.8 1218L1677.8 1218L1672.8 1218L1667.8 1218L1662.8 1218L1657.8 1218L1652.8 1218L1647.8 1218L1642.8 1218L1637.8 1218L1632.8 1218L1627.8 1218L1622.8 1218L1617.8 1218L1612.8 1218L1607.8 1218L1602.8 1218L1597.8 1218L1592.8 1218L1587.8 1218L1582.8 1218L1577.8 1218L1572.8 1218L1567.8 1218L1562.8 1218L1557.8 1218L1552.8 1218L1547.8 1218L1542.8 1218L1537.8 1218L1532.8 1218L1527.8 1218L1522.8 1218L1517.8 1218L1512.8 1218L1507.8 1218L1502.8 1218L1497.8 1218L1492.8 1218L1487.8 1218L1482.8 1218L1477.8 1218L1472.8 1218L1467.8 1218L1462.8 1218L1457.8 1218L1452.8 1218L1447.8 1218L1442.8 1218L1437.8 1218L1432.8 1218L1427.8 1218L1422.8 1218L1417.8 1218L1412.8 1218L1407.8 1218L1402.8 1218L1397.8 1218L1392.8 1218L1387.8 1218L1382.8 1218L1377.8 1218L1372.8 1218L1367.8 1218L1362.8 1218L1357.8 1218L1352.8 1218L1347.8 1218L1342.8 1218L1337.8 1218L1332.8 1218L1327.8 1218L1322.8 1218L1317.8 1218L1312.8 1218L1307.8 1218L1302.8 1218L1297.8 1218L1292.8 1218L1287.8 1218L1282.8 1218L1277.8 1218L1272.8 1218L1267.8 1218L1262.8 1218L1257.8 1218L1252.8 1218L1247.8 1218L1242.8 1218L1237.8 1218L1232.8 1218L1227.8 1218L1222.8 1218L1217.8 1218L1212.8 1218L1207.8 1218L1202.8 1218L1197.8 1218L1192.8 1218L1187.8 1218L1182.8 1218L1177.8 1218L1172.8 1218L1167.8 1218L1162.8 1218L1157.8 1218L1152.8 1218L1147.8 1218L1142.8 1218L1137.8 1218L1132.8 1218L1127.8 1218L1122.8 1218L1117.8 1218L1112.8 1218L1107.8 1218L1102.8 1218L1097.8 1218L1092.8 1218L1087.8 1218L1082.8 1218L1077.8 1218L1072.8 1218L1067.8 1218L1062.8 1218L1057.8 1218L1052.8 1217.9L1047.8 1217.9L1042.8 1217.9L1037.8 1217.9L1032.8 1217.9L1027.8 1217.9L1022.8 1217.8L1017.8 1217.8L1012.8 1217.8L1007.8 1217.7L1002.8 1217.7L997.8 1217.6L992.8 1217.6L987.8 1217.5L982.8 1217.4L977.8 1217.3L972.8 1217.2L967.8 1217L962.8 1216.9L957.8 1216.7L952.8 1216.5L947.8 1216.3L942.8 1216L937.8 1215.7L932.8 1215.3L927.8 1215L922.8 1214.5L917.9 1214L912.9 1213.5L908 1212.9L903 1212.2L898.1 1211.4L893.1 1210.6L888.2 1209.6L883.4 1208.6L878.5 1207.5L873.7 1206.3L868.9 1204.9L864.1 1203.4L859.4 1201.9L854.7 1200.2L850.1 1198.3L845.5 1196.4L841 1194.3L836.5 1192.1L832.2 1189.8L827.9 1187.3L823.6 1184.8L819.4 1182.1L815.3 1179.3L811.3 1176.4L807.4 1173.4L803.5 1170.3L799.7 1167.2L796 1163.9L792.3 1160.6L788.7 1157.2L785.2 1153.7L781.8 1150.1L778.4 1146.5L775 1142.8Z"/>
</g>
<!-- legend -->
<g clip-path="url(#leg)">
<rect x="1296.8" y="134.8" width="218" height="11" rx="3" fill="#00ff00"/>
<g fill="#ff0000">
<rect x="1296.8" y="252.3" width="17" height="11.6" rx="3.5"/>
<rect x="1353.2" y="252.3" width="17" height="11.6" rx="3.5"/>
<rect x="1409.6" y="252.3" width="17" height="11.6" rx="3.5"/>
<rect x="1466" y="252.3" width="17" height="11.6" rx="3.5"/>
</g>
<rect x="1296.8" y="367" width="218" height="11" rx="3" fill="#008000"/>
<rect x="1296.8" y="513.8" width="218" height="11" rx="3" fill="#ff00ff"/>
<rect x="1296.8" y="659.8" width="218" height="11" rx="3" fill="#0000ff"/>
<text x="1534.5" y="170.8" font-size="94" letter-spacing="0.25">Experimental</text>
<text x="1534.2" y="286.9" font-size="94" letter-spacing="-0.5">Fitted</text>
<text x="1534.2" y="402.3" font-size="94">F</text>
<text x="1592" y="438" font-size="56.4">C=O</text>
<text x="1534.2" y="548" font-size="94">R</text>
<text x="1603" y="585" font-size="56.4">C=O</text>
<text x="1534.2" y="694.3" font-size="94">LMWE</text>
</g>
<!-- tick labels -->
<g font-size="82.5" text-anchor="middle">
<text x="473.7" y="1476">1800</text>
<text x="1070.1" y="1476">1700</text>
<text x="1666.6" y="1476">1600</text>
</g>
<!-- axis titles -->
<text y="1638.7" font-size="104" x="711.1 816.3 869.9 922.4 970.7 1027.9 1084.6 1173.6 1232 1279.2 1325 1352.4 1387.1 1432.3">Wavenumber (cm<tspan font-size="62.4" y="1582.2" x="1522.2 1541.3">-1</tspan><tspan y="1638.7" x="1572.7">)</tspan></text>
<text transform="translate(147 1197) rotate(-90)" font-size="104" x="0 78.4 136.1 177.1 230.1 277.2 334.1 385.1 445.3 492.4 539 565.4 600 652.6 679.5 736.9 762.4">Absorbance (a.u.)</text>
</svg>
</body></html>
